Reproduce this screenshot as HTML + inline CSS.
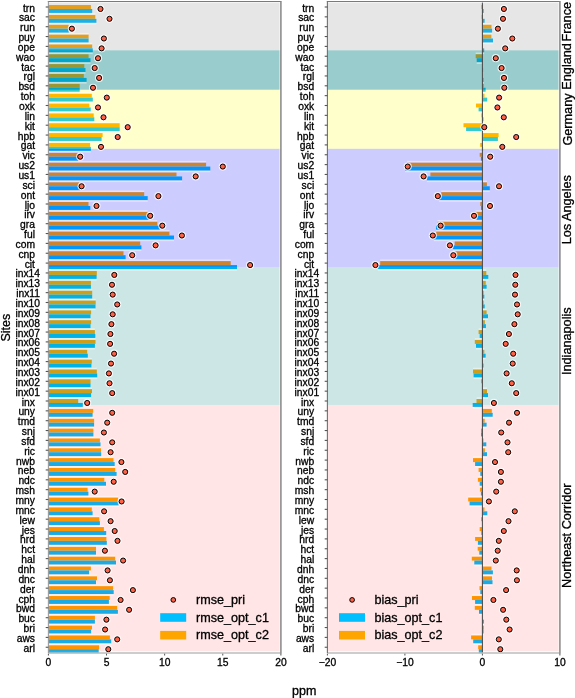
<!DOCTYPE html>
<html><head><meta charset="utf-8"><style>
html,body{margin:0;padding:0;background:#fff;}
svg{display:block;filter:blur(0.3px);}
text{font-family:"Liberation Sans",sans-serif;fill:#000;stroke:#000;stroke-width:0.3px;}
.tk{font-size:10.3px;}
.lg{font-size:12.6px;}
.lb{font-size:12.5px;}
.rg{font-size:12.7px;}
</style></head><body>
<svg width="575" height="698" viewBox="0 0 575 698">
<rect width="575" height="698" fill="#fff"/>
<rect x="48.4" y="5.03" width="42.5" height="3.94" fill="#ffa500"/>
<rect x="48.4" y="8.97" width="43.8" height="3.94" fill="#00bfff"/>
<rect x="48.4" y="14.88" width="46.9" height="3.94" fill="#ffa500"/>
<rect x="48.4" y="18.82" width="48" height="3.94" fill="#00bfff"/>
<rect x="48.4" y="24.73" width="20.4" height="3.94" fill="#ffa500"/>
<rect x="48.4" y="28.67" width="20.4" height="3.94" fill="#00bfff"/>
<rect x="48.4" y="34.58" width="40.2" height="3.94" fill="#ffa500"/>
<rect x="48.4" y="38.52" width="40.2" height="3.94" fill="#00bfff"/>
<rect x="48.4" y="44.43" width="43.8" height="3.94" fill="#ffa500"/>
<rect x="48.4" y="48.37" width="44.4" height="3.94" fill="#00bfff"/>
<rect x="48.4" y="54.28" width="40.2" height="3.94" fill="#ffa500"/>
<rect x="48.4" y="58.22" width="42.1" height="3.94" fill="#00bfff"/>
<rect x="48.4" y="64.13" width="35.9" height="3.94" fill="#ffa500"/>
<rect x="48.4" y="68.07" width="37.1" height="3.94" fill="#00bfff"/>
<rect x="48.4" y="73.98" width="35.4" height="3.94" fill="#ffa500"/>
<rect x="48.4" y="77.92" width="38.2" height="3.94" fill="#00bfff"/>
<rect x="48.4" y="83.83" width="31.3" height="3.94" fill="#ffa500"/>
<rect x="48.4" y="87.77" width="31.3" height="3.94" fill="#00bfff"/>
<rect x="48.4" y="93.68" width="43.4" height="3.94" fill="#ffa500"/>
<rect x="48.4" y="97.62" width="44.4" height="3.94" fill="#00bfff"/>
<rect x="48.4" y="103.53" width="40.9" height="3.94" fill="#ffa500"/>
<rect x="48.4" y="107.47" width="42.3" height="3.94" fill="#00bfff"/>
<rect x="48.4" y="113.38" width="45.3" height="3.94" fill="#ffa500"/>
<rect x="48.4" y="117.32" width="45.9" height="3.94" fill="#00bfff"/>
<rect x="48.4" y="123.23" width="71.3" height="3.94" fill="#ffa500"/>
<rect x="48.4" y="127.17" width="71.3" height="3.94" fill="#00bfff"/>
<rect x="48.4" y="133.08" width="54.2" height="3.94" fill="#ffa500"/>
<rect x="48.4" y="137.02" width="53.2" height="3.94" fill="#00bfff"/>
<rect x="48.4" y="142.93" width="41.7" height="3.94" fill="#ffa500"/>
<rect x="48.4" y="146.87" width="42.5" height="3.94" fill="#00bfff"/>
<rect x="48.4" y="152.78" width="29.7" height="3.94" fill="#ffa500"/>
<rect x="48.4" y="156.72" width="29.7" height="3.94" fill="#00bfff"/>
<rect x="48.4" y="162.63" width="157.7" height="3.94" fill="#ffa500"/>
<rect x="48.4" y="166.57" width="161.9" height="3.94" fill="#00bfff"/>
<rect x="48.4" y="172.48" width="128.1" height="3.94" fill="#ffa500"/>
<rect x="48.4" y="176.42" width="133.7" height="3.94" fill="#00bfff"/>
<rect x="48.4" y="182.33" width="30.7" height="3.94" fill="#ffa500"/>
<rect x="48.4" y="186.27" width="31.8" height="3.94" fill="#00bfff"/>
<rect x="48.4" y="192.18" width="95.8" height="3.94" fill="#ffa500"/>
<rect x="48.4" y="196.12" width="99.3" height="3.94" fill="#00bfff"/>
<rect x="48.4" y="202.03" width="40.1" height="3.94" fill="#ffa500"/>
<rect x="48.4" y="205.97" width="41.9" height="3.94" fill="#00bfff"/>
<rect x="48.4" y="211.88" width="99.3" height="3.94" fill="#ffa500"/>
<rect x="48.4" y="215.82" width="100.1" height="3.94" fill="#00bfff"/>
<rect x="48.4" y="221.73" width="108.9" height="3.94" fill="#ffa500"/>
<rect x="48.4" y="225.67" width="111.4" height="3.94" fill="#00bfff"/>
<rect x="48.4" y="231.58" width="121" height="3.94" fill="#ffa500"/>
<rect x="48.4" y="235.52" width="125.6" height="3.94" fill="#00bfff"/>
<rect x="48.4" y="241.43" width="91.8" height="3.94" fill="#ffa500"/>
<rect x="48.4" y="245.37" width="93" height="3.94" fill="#00bfff"/>
<rect x="48.4" y="251.28" width="75.1" height="3.94" fill="#ffa500"/>
<rect x="48.4" y="255.22" width="77.2" height="3.94" fill="#00bfff"/>
<rect x="48.4" y="261.13" width="182.3" height="3.94" fill="#ffa500"/>
<rect x="48.4" y="265.07" width="188.6" height="3.94" fill="#00bfff"/>
<rect x="48.4" y="270.98" width="48.4" height="3.94" fill="#ffa500"/>
<rect x="48.4" y="274.92" width="48.2" height="3.94" fill="#00bfff"/>
<rect x="48.4" y="280.83" width="42.5" height="3.94" fill="#ffa500"/>
<rect x="48.4" y="284.77" width="42.5" height="3.94" fill="#00bfff"/>
<rect x="48.4" y="290.68" width="43.8" height="3.94" fill="#ffa500"/>
<rect x="48.4" y="294.62" width="43.8" height="3.94" fill="#00bfff"/>
<rect x="48.4" y="300.53" width="47.3" height="3.94" fill="#ffa500"/>
<rect x="48.4" y="304.47" width="47.1" height="3.94" fill="#00bfff"/>
<rect x="48.4" y="310.38" width="42.7" height="3.94" fill="#ffa500"/>
<rect x="48.4" y="314.32" width="42.1" height="3.94" fill="#00bfff"/>
<rect x="48.4" y="320.23" width="42.7" height="3.94" fill="#ffa500"/>
<rect x="48.4" y="324.17" width="42.1" height="3.94" fill="#00bfff"/>
<rect x="48.4" y="330.08" width="46.5" height="3.94" fill="#ffa500"/>
<rect x="48.4" y="334.02" width="46.9" height="3.94" fill="#00bfff"/>
<rect x="48.4" y="339.93" width="47.1" height="3.94" fill="#ffa500"/>
<rect x="48.4" y="343.87" width="46.5" height="3.94" fill="#00bfff"/>
<rect x="48.4" y="349.78" width="38.8" height="3.94" fill="#ffa500"/>
<rect x="48.4" y="353.72" width="39.4" height="3.94" fill="#00bfff"/>
<rect x="48.4" y="359.63" width="43.4" height="3.94" fill="#ffa500"/>
<rect x="48.4" y="363.57" width="43" height="3.94" fill="#00bfff"/>
<rect x="48.4" y="369.48" width="48.4" height="3.94" fill="#ffa500"/>
<rect x="48.4" y="373.42" width="48.8" height="3.94" fill="#00bfff"/>
<rect x="48.4" y="379.33" width="42.1" height="3.94" fill="#ffa500"/>
<rect x="48.4" y="383.27" width="42.1" height="3.94" fill="#00bfff"/>
<rect x="48.4" y="389.18" width="43.6" height="3.94" fill="#ffa500"/>
<rect x="48.4" y="393.12" width="42.7" height="3.94" fill="#00bfff"/>
<rect x="48.4" y="399.03" width="29.8" height="3.94" fill="#ffa500"/>
<rect x="48.4" y="402.97" width="34.4" height="3.94" fill="#00bfff"/>
<rect x="48.4" y="408.88" width="44.8" height="3.94" fill="#ffa500"/>
<rect x="48.4" y="412.82" width="44.2" height="3.94" fill="#00bfff"/>
<rect x="48.4" y="418.73" width="45.7" height="3.94" fill="#ffa500"/>
<rect x="48.4" y="422.67" width="45.7" height="3.94" fill="#00bfff"/>
<rect x="48.4" y="428.58" width="45" height="3.94" fill="#ffa500"/>
<rect x="48.4" y="432.52" width="45" height="3.94" fill="#00bfff"/>
<rect x="48.4" y="438.43" width="51.5" height="3.94" fill="#ffa500"/>
<rect x="48.4" y="442.37" width="52.1" height="3.94" fill="#00bfff"/>
<rect x="48.4" y="448.28" width="52.6" height="3.94" fill="#ffa500"/>
<rect x="48.4" y="452.22" width="52.8" height="3.94" fill="#00bfff"/>
<rect x="48.4" y="458.13" width="65.1" height="3.94" fill="#ffa500"/>
<rect x="48.4" y="462.07" width="66.3" height="3.94" fill="#00bfff"/>
<rect x="48.4" y="467.98" width="66.8" height="3.94" fill="#ffa500"/>
<rect x="48.4" y="471.92" width="68.2" height="3.94" fill="#00bfff"/>
<rect x="48.4" y="477.83" width="55.9" height="3.94" fill="#ffa500"/>
<rect x="48.4" y="481.77" width="57.6" height="3.94" fill="#00bfff"/>
<rect x="48.4" y="487.68" width="39.2" height="3.94" fill="#ffa500"/>
<rect x="48.4" y="491.62" width="40" height="3.94" fill="#00bfff"/>
<rect x="48.4" y="497.53" width="69.7" height="3.94" fill="#ffa500"/>
<rect x="48.4" y="501.47" width="70.3" height="3.94" fill="#00bfff"/>
<rect x="48.4" y="507.38" width="43.4" height="3.94" fill="#ffa500"/>
<rect x="48.4" y="511.32" width="44.2" height="3.94" fill="#00bfff"/>
<rect x="48.4" y="517.23" width="50.9" height="3.94" fill="#ffa500"/>
<rect x="48.4" y="521.17" width="51.5" height="3.94" fill="#00bfff"/>
<rect x="48.4" y="527.08" width="55.5" height="3.94" fill="#ffa500"/>
<rect x="48.4" y="531.02" width="57.8" height="3.94" fill="#00bfff"/>
<rect x="48.4" y="536.93" width="58" height="3.94" fill="#ffa500"/>
<rect x="48.4" y="540.87" width="58.4" height="3.94" fill="#00bfff"/>
<rect x="48.4" y="546.78" width="47.6" height="3.94" fill="#ffa500"/>
<rect x="48.4" y="550.72" width="47.6" height="3.94" fill="#00bfff"/>
<rect x="48.4" y="556.63" width="66.8" height="3.94" fill="#ffa500"/>
<rect x="48.4" y="560.57" width="67.6" height="3.94" fill="#00bfff"/>
<rect x="48.4" y="566.48" width="42.5" height="3.94" fill="#ffa500"/>
<rect x="48.4" y="570.42" width="40.7" height="3.94" fill="#00bfff"/>
<rect x="48.4" y="576.33" width="48.6" height="3.94" fill="#ffa500"/>
<rect x="48.4" y="580.27" width="47.6" height="3.94" fill="#00bfff"/>
<rect x="48.4" y="586.18" width="64.7" height="3.94" fill="#ffa500"/>
<rect x="48.4" y="590.12" width="65.3" height="3.94" fill="#00bfff"/>
<rect x="48.4" y="596.03" width="61.3" height="3.94" fill="#ffa500"/>
<rect x="48.4" y="599.97" width="60.5" height="3.94" fill="#00bfff"/>
<rect x="48.4" y="605.88" width="68.8" height="3.94" fill="#ffa500"/>
<rect x="48.4" y="609.82" width="69.5" height="3.94" fill="#00bfff"/>
<rect x="48.4" y="615.73" width="46.5" height="3.94" fill="#ffa500"/>
<rect x="48.4" y="619.67" width="46.5" height="3.94" fill="#00bfff"/>
<rect x="48.4" y="625.58" width="43.6" height="3.94" fill="#ffa500"/>
<rect x="48.4" y="629.52" width="42.7" height="3.94" fill="#00bfff"/>
<rect x="48.4" y="635.43" width="61.5" height="3.94" fill="#ffa500"/>
<rect x="48.4" y="639.37" width="62.8" height="3.94" fill="#00bfff"/>
<rect x="48.4" y="645.28" width="50.7" height="3.94" fill="#ffa500"/>
<rect x="48.4" y="649.22" width="50.3" height="3.94" fill="#00bfff"/>
<rect x="48.4" y="1.09" width="232.5" height="49.25" fill="#808080" fill-opacity="0.2"/>
<rect x="48.4" y="50.34" width="232.5" height="39.4" fill="#008080" fill-opacity="0.4"/>
<rect x="48.4" y="89.74" width="232.5" height="59.1" fill="#ffff00" fill-opacity="0.2"/>
<rect x="48.4" y="148.84" width="232.5" height="118.2" fill="#0000ff" fill-opacity="0.2"/>
<rect x="48.4" y="267.04" width="232.5" height="137.9" fill="#008080" fill-opacity="0.2"/>
<rect x="48.4" y="404.94" width="232.5" height="246.25" fill="#ff0000" fill-opacity="0.1"/>
<rect x="48.4" y="13.16" width="46.9" height="1.5" fill="#fff" fill-opacity="0.45"/>
<rect x="48.4" y="23.01" width="48" height="1.5" fill="#fff" fill-opacity="0.45"/>
<rect x="48.4" y="32.86" width="40.2" height="1.5" fill="#fff" fill-opacity="0.45"/>
<rect x="48.4" y="42.71" width="43.8" height="1.5" fill="#fff" fill-opacity="0.45"/>
<rect x="48.4" y="52.56" width="44.4" height="1.5" fill="#fff" fill-opacity="0.45"/>
<rect x="48.4" y="62.41" width="42.1" height="1.5" fill="#fff" fill-opacity="0.45"/>
<rect x="48.4" y="72.26" width="37.1" height="1.5" fill="#fff" fill-opacity="0.45"/>
<rect x="48.4" y="82.11" width="38.2" height="1.5" fill="#fff" fill-opacity="0.45"/>
<rect x="48.4" y="91.96" width="43.4" height="1.5" fill="#fff" fill-opacity="0.45"/>
<rect x="48.4" y="101.81" width="44.4" height="1.5" fill="#fff" fill-opacity="0.45"/>
<rect x="48.4" y="111.66" width="45.3" height="1.5" fill="#fff" fill-opacity="0.45"/>
<rect x="48.4" y="121.51" width="71.3" height="1.5" fill="#fff" fill-opacity="0.45"/>
<rect x="48.4" y="131.36" width="71.3" height="1.5" fill="#fff" fill-opacity="0.45"/>
<rect x="48.4" y="141.21" width="53.2" height="1.5" fill="#fff" fill-opacity="0.45"/>
<rect x="48.4" y="151.06" width="42.5" height="1.5" fill="#fff" fill-opacity="0.45"/>
<rect x="48.4" y="160.91" width="157.7" height="1.5" fill="#fff" fill-opacity="0.45"/>
<rect x="48.4" y="170.76" width="161.9" height="1.5" fill="#fff" fill-opacity="0.45"/>
<rect x="48.4" y="180.61" width="133.7" height="1.5" fill="#fff" fill-opacity="0.45"/>
<rect x="48.4" y="190.46" width="95.8" height="1.5" fill="#fff" fill-opacity="0.45"/>
<rect x="48.4" y="200.31" width="99.3" height="1.5" fill="#fff" fill-opacity="0.45"/>
<rect x="48.4" y="210.16" width="99.3" height="1.5" fill="#fff" fill-opacity="0.45"/>
<rect x="48.4" y="220.01" width="108.9" height="1.5" fill="#fff" fill-opacity="0.45"/>
<rect x="48.4" y="229.86" width="121" height="1.5" fill="#fff" fill-opacity="0.45"/>
<rect x="48.4" y="239.71" width="125.6" height="1.5" fill="#fff" fill-opacity="0.45"/>
<rect x="48.4" y="249.56" width="93" height="1.5" fill="#fff" fill-opacity="0.45"/>
<rect x="48.4" y="259.41" width="182.3" height="1.5" fill="#fff" fill-opacity="0.45"/>
<rect x="48.4" y="269.26" width="188.6" height="1.5" fill="#fff" fill-opacity="0.45"/>
<rect x="48.4" y="279.11" width="48.2" height="1.5" fill="#fff" fill-opacity="0.45"/>
<rect x="48.4" y="288.96" width="43.8" height="1.5" fill="#fff" fill-opacity="0.45"/>
<rect x="48.4" y="298.81" width="47.3" height="1.5" fill="#fff" fill-opacity="0.45"/>
<rect x="48.4" y="308.66" width="47.1" height="1.5" fill="#fff" fill-opacity="0.45"/>
<rect x="48.4" y="318.51" width="42.7" height="1.5" fill="#fff" fill-opacity="0.45"/>
<rect x="48.4" y="328.36" width="46.5" height="1.5" fill="#fff" fill-opacity="0.45"/>
<rect x="48.4" y="338.21" width="47.1" height="1.5" fill="#fff" fill-opacity="0.45"/>
<rect x="48.4" y="348.06" width="46.5" height="1.5" fill="#fff" fill-opacity="0.45"/>
<rect x="48.4" y="357.91" width="43.4" height="1.5" fill="#fff" fill-opacity="0.45"/>
<rect x="48.4" y="367.76" width="48.4" height="1.5" fill="#fff" fill-opacity="0.45"/>
<rect x="48.4" y="377.61" width="48.8" height="1.5" fill="#fff" fill-opacity="0.45"/>
<rect x="48.4" y="387.46" width="43.6" height="1.5" fill="#fff" fill-opacity="0.45"/>
<rect x="48.4" y="397.31" width="42.7" height="1.5" fill="#fff" fill-opacity="0.45"/>
<rect x="48.4" y="407.16" width="44.8" height="1.5" fill="#fff" fill-opacity="0.45"/>
<rect x="48.4" y="417.01" width="45.7" height="1.5" fill="#fff" fill-opacity="0.45"/>
<rect x="48.4" y="426.86" width="45.7" height="1.5" fill="#fff" fill-opacity="0.45"/>
<rect x="48.4" y="436.71" width="51.5" height="1.5" fill="#fff" fill-opacity="0.45"/>
<rect x="48.4" y="446.56" width="52.6" height="1.5" fill="#fff" fill-opacity="0.45"/>
<rect x="48.4" y="456.41" width="65.1" height="1.5" fill="#fff" fill-opacity="0.45"/>
<rect x="48.4" y="466.26" width="66.8" height="1.5" fill="#fff" fill-opacity="0.45"/>
<rect x="48.4" y="476.11" width="68.2" height="1.5" fill="#fff" fill-opacity="0.45"/>
<rect x="48.4" y="485.96" width="57.6" height="1.5" fill="#fff" fill-opacity="0.45"/>
<rect x="48.4" y="495.81" width="69.7" height="1.5" fill="#fff" fill-opacity="0.45"/>
<rect x="48.4" y="505.66" width="70.3" height="1.5" fill="#fff" fill-opacity="0.45"/>
<rect x="48.4" y="515.51" width="50.9" height="1.5" fill="#fff" fill-opacity="0.45"/>
<rect x="48.4" y="525.36" width="55.5" height="1.5" fill="#fff" fill-opacity="0.45"/>
<rect x="48.4" y="535.21" width="58" height="1.5" fill="#fff" fill-opacity="0.45"/>
<rect x="48.4" y="545.06" width="58.4" height="1.5" fill="#fff" fill-opacity="0.45"/>
<rect x="48.4" y="554.91" width="66.8" height="1.5" fill="#fff" fill-opacity="0.45"/>
<rect x="48.4" y="564.76" width="67.6" height="1.5" fill="#fff" fill-opacity="0.45"/>
<rect x="48.4" y="574.61" width="48.6" height="1.5" fill="#fff" fill-opacity="0.45"/>
<rect x="48.4" y="584.46" width="64.7" height="1.5" fill="#fff" fill-opacity="0.45"/>
<rect x="48.4" y="594.31" width="65.3" height="1.5" fill="#fff" fill-opacity="0.45"/>
<rect x="48.4" y="604.16" width="68.8" height="1.5" fill="#fff" fill-opacity="0.45"/>
<rect x="48.4" y="614.01" width="69.5" height="1.5" fill="#fff" fill-opacity="0.45"/>
<rect x="48.4" y="623.86" width="46.5" height="1.5" fill="#fff" fill-opacity="0.45"/>
<rect x="48.4" y="633.71" width="61.5" height="1.5" fill="#fff" fill-opacity="0.45"/>
<rect x="48.4" y="643.56" width="62.8" height="1.5" fill="#fff" fill-opacity="0.45"/>
<circle cx="100.5" cy="8.97" r="4.1" fill="#fff" fill-opacity="0.75"/>
<circle cx="100.5" cy="8.97" r="2.55" fill="#ff6347" stroke="#000" stroke-width="1"/>
<circle cx="109.5" cy="18.82" r="4.1" fill="#fff" fill-opacity="0.75"/>
<circle cx="109.5" cy="18.82" r="2.55" fill="#ff6347" stroke="#000" stroke-width="1"/>
<circle cx="71.9" cy="28.67" r="4.1" fill="#fff" fill-opacity="0.75"/>
<circle cx="71.9" cy="28.67" r="2.55" fill="#ff6347" stroke="#000" stroke-width="1"/>
<circle cx="103.9" cy="38.52" r="4.1" fill="#fff" fill-opacity="0.75"/>
<circle cx="103.9" cy="38.52" r="2.55" fill="#ff6347" stroke="#000" stroke-width="1"/>
<circle cx="101.6" cy="48.37" r="4.1" fill="#fff" fill-opacity="0.75"/>
<circle cx="101.6" cy="48.37" r="2.55" fill="#ff6347" stroke="#000" stroke-width="1"/>
<circle cx="98" cy="58.22" r="4.1" fill="#fff" fill-opacity="0.75"/>
<circle cx="98" cy="58.22" r="2.55" fill="#ff6347" stroke="#000" stroke-width="1"/>
<circle cx="94.7" cy="68.07" r="4.1" fill="#fff" fill-opacity="0.75"/>
<circle cx="94.7" cy="68.07" r="2.55" fill="#ff6347" stroke="#000" stroke-width="1"/>
<circle cx="99.1" cy="77.92" r="4.1" fill="#fff" fill-opacity="0.75"/>
<circle cx="99.1" cy="77.92" r="2.55" fill="#ff6347" stroke="#000" stroke-width="1"/>
<circle cx="93" cy="87.77" r="4.1" fill="#fff" fill-opacity="0.75"/>
<circle cx="93" cy="87.77" r="2.55" fill="#ff6347" stroke="#000" stroke-width="1"/>
<circle cx="106.8" cy="97.62" r="4.1" fill="#fff" fill-opacity="0.75"/>
<circle cx="106.8" cy="97.62" r="2.55" fill="#ff6347" stroke="#000" stroke-width="1"/>
<circle cx="98" cy="107.47" r="4.1" fill="#fff" fill-opacity="0.75"/>
<circle cx="98" cy="107.47" r="2.55" fill="#ff6347" stroke="#000" stroke-width="1"/>
<circle cx="103.5" cy="117.32" r="4.1" fill="#fff" fill-opacity="0.75"/>
<circle cx="103.5" cy="117.32" r="2.55" fill="#ff6347" stroke="#000" stroke-width="1"/>
<circle cx="127.7" cy="127.17" r="4.1" fill="#fff" fill-opacity="0.75"/>
<circle cx="127.7" cy="127.17" r="2.55" fill="#ff6347" stroke="#000" stroke-width="1"/>
<circle cx="117.7" cy="137.02" r="4.1" fill="#fff" fill-opacity="0.75"/>
<circle cx="117.7" cy="137.02" r="2.55" fill="#ff6347" stroke="#000" stroke-width="1"/>
<circle cx="101" cy="146.87" r="4.1" fill="#fff" fill-opacity="0.75"/>
<circle cx="101" cy="146.87" r="2.55" fill="#ff6347" stroke="#000" stroke-width="1"/>
<circle cx="80.2" cy="156.72" r="4.1" fill="#fff" fill-opacity="0.75"/>
<circle cx="80.2" cy="156.72" r="2.55" fill="#ff6347" stroke="#000" stroke-width="1"/>
<circle cx="222.8" cy="166.57" r="4.1" fill="#fff" fill-opacity="0.75"/>
<circle cx="222.8" cy="166.57" r="2.55" fill="#ff6347" stroke="#000" stroke-width="1"/>
<circle cx="195.7" cy="176.42" r="4.1" fill="#fff" fill-opacity="0.75"/>
<circle cx="195.7" cy="176.42" r="2.55" fill="#ff6347" stroke="#000" stroke-width="1"/>
<circle cx="81.6" cy="186.27" r="4.1" fill="#fff" fill-opacity="0.75"/>
<circle cx="81.6" cy="186.27" r="2.55" fill="#ff6347" stroke="#000" stroke-width="1"/>
<circle cx="158.4" cy="196.12" r="4.1" fill="#fff" fill-opacity="0.75"/>
<circle cx="158.4" cy="196.12" r="2.55" fill="#ff6347" stroke="#000" stroke-width="1"/>
<circle cx="96.5" cy="205.97" r="4.1" fill="#fff" fill-opacity="0.75"/>
<circle cx="96.5" cy="205.97" r="2.55" fill="#ff6347" stroke="#000" stroke-width="1"/>
<circle cx="150.2" cy="215.82" r="4.1" fill="#fff" fill-opacity="0.75"/>
<circle cx="150.2" cy="215.82" r="2.55" fill="#ff6347" stroke="#000" stroke-width="1"/>
<circle cx="162.3" cy="225.67" r="4.1" fill="#fff" fill-opacity="0.75"/>
<circle cx="162.3" cy="225.67" r="2.55" fill="#ff6347" stroke="#000" stroke-width="1"/>
<circle cx="181.9" cy="235.52" r="4.1" fill="#fff" fill-opacity="0.75"/>
<circle cx="181.9" cy="235.52" r="2.55" fill="#ff6347" stroke="#000" stroke-width="1"/>
<circle cx="155.6" cy="245.37" r="4.1" fill="#fff" fill-opacity="0.75"/>
<circle cx="155.6" cy="245.37" r="2.55" fill="#ff6347" stroke="#000" stroke-width="1"/>
<circle cx="132.2" cy="255.22" r="4.1" fill="#fff" fill-opacity="0.75"/>
<circle cx="132.2" cy="255.22" r="2.55" fill="#ff6347" stroke="#000" stroke-width="1"/>
<circle cx="250.1" cy="265.07" r="4.1" fill="#fff" fill-opacity="0.75"/>
<circle cx="250.1" cy="265.07" r="2.55" fill="#ff6347" stroke="#000" stroke-width="1"/>
<circle cx="114.3" cy="274.92" r="4.1" fill="#fff" fill-opacity="0.75"/>
<circle cx="114.3" cy="274.92" r="2.55" fill="#ff6347" stroke="#000" stroke-width="1"/>
<circle cx="112" cy="284.77" r="4.1" fill="#fff" fill-opacity="0.75"/>
<circle cx="112" cy="284.77" r="2.55" fill="#ff6347" stroke="#000" stroke-width="1"/>
<circle cx="112.7" cy="294.62" r="4.1" fill="#fff" fill-opacity="0.75"/>
<circle cx="112.7" cy="294.62" r="2.55" fill="#ff6347" stroke="#000" stroke-width="1"/>
<circle cx="117.2" cy="304.47" r="4.1" fill="#fff" fill-opacity="0.75"/>
<circle cx="117.2" cy="304.47" r="2.55" fill="#ff6347" stroke="#000" stroke-width="1"/>
<circle cx="112.7" cy="314.32" r="4.1" fill="#fff" fill-opacity="0.75"/>
<circle cx="112.7" cy="314.32" r="2.55" fill="#ff6347" stroke="#000" stroke-width="1"/>
<circle cx="111.4" cy="324.17" r="4.1" fill="#fff" fill-opacity="0.75"/>
<circle cx="111.4" cy="324.17" r="2.55" fill="#ff6347" stroke="#000" stroke-width="1"/>
<circle cx="110.4" cy="334.02" r="4.1" fill="#fff" fill-opacity="0.75"/>
<circle cx="110.4" cy="334.02" r="2.55" fill="#ff6347" stroke="#000" stroke-width="1"/>
<circle cx="110.1" cy="343.87" r="4.1" fill="#fff" fill-opacity="0.75"/>
<circle cx="110.1" cy="343.87" r="2.55" fill="#ff6347" stroke="#000" stroke-width="1"/>
<circle cx="114.1" cy="353.72" r="4.1" fill="#fff" fill-opacity="0.75"/>
<circle cx="114.1" cy="353.72" r="2.55" fill="#ff6347" stroke="#000" stroke-width="1"/>
<circle cx="111" cy="363.57" r="4.1" fill="#fff" fill-opacity="0.75"/>
<circle cx="111" cy="363.57" r="2.55" fill="#ff6347" stroke="#000" stroke-width="1"/>
<circle cx="108.9" cy="373.42" r="4.1" fill="#fff" fill-opacity="0.75"/>
<circle cx="108.9" cy="373.42" r="2.55" fill="#ff6347" stroke="#000" stroke-width="1"/>
<circle cx="109.5" cy="383.27" r="4.1" fill="#fff" fill-opacity="0.75"/>
<circle cx="109.5" cy="383.27" r="2.55" fill="#ff6347" stroke="#000" stroke-width="1"/>
<circle cx="112.2" cy="393.12" r="4.1" fill="#fff" fill-opacity="0.75"/>
<circle cx="112.2" cy="393.12" r="2.55" fill="#ff6347" stroke="#000" stroke-width="1"/>
<circle cx="87.2" cy="402.97" r="4.1" fill="#fff" fill-opacity="0.75"/>
<circle cx="87.2" cy="402.97" r="2.55" fill="#ff6347" stroke="#000" stroke-width="1"/>
<circle cx="112.2" cy="412.82" r="4.1" fill="#fff" fill-opacity="0.75"/>
<circle cx="112.2" cy="412.82" r="2.55" fill="#ff6347" stroke="#000" stroke-width="1"/>
<circle cx="107.2" cy="422.67" r="4.1" fill="#fff" fill-opacity="0.75"/>
<circle cx="107.2" cy="422.67" r="2.55" fill="#ff6347" stroke="#000" stroke-width="1"/>
<circle cx="103.9" cy="432.52" r="4.1" fill="#fff" fill-opacity="0.75"/>
<circle cx="103.9" cy="432.52" r="2.55" fill="#ff6347" stroke="#000" stroke-width="1"/>
<circle cx="112.2" cy="442.37" r="4.1" fill="#fff" fill-opacity="0.75"/>
<circle cx="112.2" cy="442.37" r="2.55" fill="#ff6347" stroke="#000" stroke-width="1"/>
<circle cx="110.6" cy="452.22" r="4.1" fill="#fff" fill-opacity="0.75"/>
<circle cx="110.6" cy="452.22" r="2.55" fill="#ff6347" stroke="#000" stroke-width="1"/>
<circle cx="121.4" cy="462.07" r="4.1" fill="#fff" fill-opacity="0.75"/>
<circle cx="121.4" cy="462.07" r="2.55" fill="#ff6347" stroke="#000" stroke-width="1"/>
<circle cx="125.2" cy="471.92" r="4.1" fill="#fff" fill-opacity="0.75"/>
<circle cx="125.2" cy="471.92" r="2.55" fill="#ff6347" stroke="#000" stroke-width="1"/>
<circle cx="113.7" cy="481.77" r="4.1" fill="#fff" fill-opacity="0.75"/>
<circle cx="113.7" cy="481.77" r="2.55" fill="#ff6347" stroke="#000" stroke-width="1"/>
<circle cx="94.7" cy="491.62" r="4.1" fill="#fff" fill-opacity="0.75"/>
<circle cx="94.7" cy="491.62" r="2.55" fill="#ff6347" stroke="#000" stroke-width="1"/>
<circle cx="121.6" cy="501.47" r="4.1" fill="#fff" fill-opacity="0.75"/>
<circle cx="121.6" cy="501.47" r="2.55" fill="#ff6347" stroke="#000" stroke-width="1"/>
<circle cx="104.1" cy="511.32" r="4.1" fill="#fff" fill-opacity="0.75"/>
<circle cx="104.1" cy="511.32" r="2.55" fill="#ff6347" stroke="#000" stroke-width="1"/>
<circle cx="110.6" cy="521.17" r="4.1" fill="#fff" fill-opacity="0.75"/>
<circle cx="110.6" cy="521.17" r="2.55" fill="#ff6347" stroke="#000" stroke-width="1"/>
<circle cx="114.7" cy="531.02" r="4.1" fill="#fff" fill-opacity="0.75"/>
<circle cx="114.7" cy="531.02" r="2.55" fill="#ff6347" stroke="#000" stroke-width="1"/>
<circle cx="117.5" cy="540.87" r="4.1" fill="#fff" fill-opacity="0.75"/>
<circle cx="117.5" cy="540.87" r="2.55" fill="#ff6347" stroke="#000" stroke-width="1"/>
<circle cx="104.9" cy="550.72" r="4.1" fill="#fff" fill-opacity="0.75"/>
<circle cx="104.9" cy="550.72" r="2.55" fill="#ff6347" stroke="#000" stroke-width="1"/>
<circle cx="123.1" cy="560.57" r="4.1" fill="#fff" fill-opacity="0.75"/>
<circle cx="123.1" cy="560.57" r="2.55" fill="#ff6347" stroke="#000" stroke-width="1"/>
<circle cx="107.6" cy="570.42" r="4.1" fill="#fff" fill-opacity="0.75"/>
<circle cx="107.6" cy="570.42" r="2.55" fill="#ff6347" stroke="#000" stroke-width="1"/>
<circle cx="109.9" cy="580.27" r="4.1" fill="#fff" fill-opacity="0.75"/>
<circle cx="109.9" cy="580.27" r="2.55" fill="#ff6347" stroke="#000" stroke-width="1"/>
<circle cx="132.9" cy="590.12" r="4.1" fill="#fff" fill-opacity="0.75"/>
<circle cx="132.9" cy="590.12" r="2.55" fill="#ff6347" stroke="#000" stroke-width="1"/>
<circle cx="120.6" cy="599.97" r="4.1" fill="#fff" fill-opacity="0.75"/>
<circle cx="120.6" cy="599.97" r="2.55" fill="#ff6347" stroke="#000" stroke-width="1"/>
<circle cx="129.1" cy="609.82" r="4.1" fill="#fff" fill-opacity="0.75"/>
<circle cx="129.1" cy="609.82" r="2.55" fill="#ff6347" stroke="#000" stroke-width="1"/>
<circle cx="106.4" cy="619.67" r="4.1" fill="#fff" fill-opacity="0.75"/>
<circle cx="106.4" cy="619.67" r="2.55" fill="#ff6347" stroke="#000" stroke-width="1"/>
<circle cx="105.1" cy="629.52" r="4.1" fill="#fff" fill-opacity="0.75"/>
<circle cx="105.1" cy="629.52" r="2.55" fill="#ff6347" stroke="#000" stroke-width="1"/>
<circle cx="117.2" cy="639.37" r="4.1" fill="#fff" fill-opacity="0.75"/>
<circle cx="117.2" cy="639.37" r="2.55" fill="#ff6347" stroke="#000" stroke-width="1"/>
<circle cx="108.3" cy="649.22" r="4.1" fill="#fff" fill-opacity="0.75"/>
<circle cx="108.3" cy="649.22" r="2.55" fill="#ff6347" stroke="#000" stroke-width="1"/>
<line x1="48.4" y1="2.6" x2="280.9" y2="2.6" stroke="#fff" stroke-opacity="0.7" stroke-width="0.9"/>
<line x1="279.7" y1="1.5" x2="279.7" y2="651.1" stroke="#fff" stroke-opacity="0.6" stroke-width="0.9"/>
<line x1="47.8" y1="1.5" x2="281.5" y2="1.5" stroke="#7a7a7a" stroke-width="1.2"/>
<line x1="48.4" y1="653.1" x2="280.9" y2="653.1" stroke="#bdbdbd" stroke-width="1.5"/>
<line x1="48.4" y1="1.5" x2="48.4" y2="653.1" stroke="#9a9a9a" stroke-width="1.1"/>
<line x1="280.9" y1="1.5" x2="280.9" y2="653.8" stroke="#8f8f8f" stroke-width="1.6"/>
<line x1="45.7" y1="7" x2="48.4" y2="7" stroke="#555" stroke-width="1.1"/>
<text x="35" y="11.5" text-anchor="end" class="tk">trn</text>
<line x1="45.7" y1="16.85" x2="48.4" y2="16.85" stroke="#555" stroke-width="1.1"/>
<text x="35" y="21.35" text-anchor="end" class="tk">sac</text>
<line x1="45.7" y1="26.7" x2="48.4" y2="26.7" stroke="#555" stroke-width="1.1"/>
<text x="35" y="31.2" text-anchor="end" class="tk">run</text>
<line x1="45.7" y1="36.55" x2="48.4" y2="36.55" stroke="#555" stroke-width="1.1"/>
<text x="35" y="41.05" text-anchor="end" class="tk">puy</text>
<line x1="45.7" y1="46.4" x2="48.4" y2="46.4" stroke="#555" stroke-width="1.1"/>
<text x="35" y="50.9" text-anchor="end" class="tk">ope</text>
<line x1="45.7" y1="56.25" x2="48.4" y2="56.25" stroke="#555" stroke-width="1.1"/>
<text x="35" y="60.75" text-anchor="end" class="tk">wao</text>
<line x1="45.7" y1="66.1" x2="48.4" y2="66.1" stroke="#555" stroke-width="1.1"/>
<text x="35" y="70.6" text-anchor="end" class="tk">tac</text>
<line x1="45.7" y1="75.95" x2="48.4" y2="75.95" stroke="#555" stroke-width="1.1"/>
<text x="35" y="80.45" text-anchor="end" class="tk">rgl</text>
<line x1="45.7" y1="85.8" x2="48.4" y2="85.8" stroke="#555" stroke-width="1.1"/>
<text x="35" y="90.3" text-anchor="end" class="tk">bsd</text>
<line x1="45.7" y1="95.65" x2="48.4" y2="95.65" stroke="#555" stroke-width="1.1"/>
<text x="35" y="100.15" text-anchor="end" class="tk">toh</text>
<line x1="45.7" y1="105.5" x2="48.4" y2="105.5" stroke="#555" stroke-width="1.1"/>
<text x="35" y="110" text-anchor="end" class="tk">oxk</text>
<line x1="45.7" y1="115.35" x2="48.4" y2="115.35" stroke="#555" stroke-width="1.1"/>
<text x="35" y="119.85" text-anchor="end" class="tk">lin</text>
<line x1="45.7" y1="125.2" x2="48.4" y2="125.2" stroke="#555" stroke-width="1.1"/>
<text x="35" y="129.7" text-anchor="end" class="tk">kit</text>
<line x1="45.7" y1="135.05" x2="48.4" y2="135.05" stroke="#555" stroke-width="1.1"/>
<text x="35" y="139.55" text-anchor="end" class="tk">hpb</text>
<line x1="45.7" y1="144.9" x2="48.4" y2="144.9" stroke="#555" stroke-width="1.1"/>
<text x="35" y="149.4" text-anchor="end" class="tk">gat</text>
<line x1="45.7" y1="154.75" x2="48.4" y2="154.75" stroke="#555" stroke-width="1.1"/>
<text x="35" y="159.25" text-anchor="end" class="tk">vic</text>
<line x1="45.7" y1="164.6" x2="48.4" y2="164.6" stroke="#555" stroke-width="1.1"/>
<text x="35" y="169.1" text-anchor="end" class="tk">us2</text>
<line x1="45.7" y1="174.45" x2="48.4" y2="174.45" stroke="#555" stroke-width="1.1"/>
<text x="35" y="178.95" text-anchor="end" class="tk">us1</text>
<line x1="45.7" y1="184.3" x2="48.4" y2="184.3" stroke="#555" stroke-width="1.1"/>
<text x="35" y="188.8" text-anchor="end" class="tk">sci</text>
<line x1="45.7" y1="194.15" x2="48.4" y2="194.15" stroke="#555" stroke-width="1.1"/>
<text x="35" y="198.65" text-anchor="end" class="tk">ont</text>
<line x1="45.7" y1="204" x2="48.4" y2="204" stroke="#555" stroke-width="1.1"/>
<text x="35" y="208.5" text-anchor="end" class="tk">ljo</text>
<line x1="45.7" y1="213.85" x2="48.4" y2="213.85" stroke="#555" stroke-width="1.1"/>
<text x="35" y="218.35" text-anchor="end" class="tk">irv</text>
<line x1="45.7" y1="223.7" x2="48.4" y2="223.7" stroke="#555" stroke-width="1.1"/>
<text x="35" y="228.2" text-anchor="end" class="tk">gra</text>
<line x1="45.7" y1="233.55" x2="48.4" y2="233.55" stroke="#555" stroke-width="1.1"/>
<text x="35" y="238.05" text-anchor="end" class="tk">ful</text>
<line x1="45.7" y1="243.4" x2="48.4" y2="243.4" stroke="#555" stroke-width="1.1"/>
<text x="35" y="247.9" text-anchor="end" class="tk">com</text>
<line x1="45.7" y1="253.25" x2="48.4" y2="253.25" stroke="#555" stroke-width="1.1"/>
<text x="35" y="257.75" text-anchor="end" class="tk">cnp</text>
<line x1="45.7" y1="263.1" x2="48.4" y2="263.1" stroke="#555" stroke-width="1.1"/>
<text x="35" y="267.6" text-anchor="end" class="tk">cit</text>
<line x1="45.7" y1="272.95" x2="48.4" y2="272.95" stroke="#555" stroke-width="1.1"/>
<text x="40" y="277.45" text-anchor="end" class="tk">inx14</text>
<line x1="45.7" y1="282.8" x2="48.4" y2="282.8" stroke="#555" stroke-width="1.1"/>
<text x="40" y="287.3" text-anchor="end" class="tk">inx13</text>
<line x1="45.7" y1="292.65" x2="48.4" y2="292.65" stroke="#555" stroke-width="1.1"/>
<text x="40" y="297.15" text-anchor="end" class="tk">inx11</text>
<line x1="45.7" y1="302.5" x2="48.4" y2="302.5" stroke="#555" stroke-width="1.1"/>
<text x="40" y="307" text-anchor="end" class="tk">inx10</text>
<line x1="45.7" y1="312.35" x2="48.4" y2="312.35" stroke="#555" stroke-width="1.1"/>
<text x="40" y="316.85" text-anchor="end" class="tk">inx09</text>
<line x1="45.7" y1="322.2" x2="48.4" y2="322.2" stroke="#555" stroke-width="1.1"/>
<text x="40" y="326.7" text-anchor="end" class="tk">inx08</text>
<line x1="45.7" y1="332.05" x2="48.4" y2="332.05" stroke="#555" stroke-width="1.1"/>
<text x="40" y="336.55" text-anchor="end" class="tk">inx07</text>
<line x1="45.7" y1="341.9" x2="48.4" y2="341.9" stroke="#555" stroke-width="1.1"/>
<text x="40" y="346.4" text-anchor="end" class="tk">inx06</text>
<line x1="45.7" y1="351.75" x2="48.4" y2="351.75" stroke="#555" stroke-width="1.1"/>
<text x="40" y="356.25" text-anchor="end" class="tk">inx05</text>
<line x1="45.7" y1="361.6" x2="48.4" y2="361.6" stroke="#555" stroke-width="1.1"/>
<text x="40" y="366.1" text-anchor="end" class="tk">inx04</text>
<line x1="45.7" y1="371.45" x2="48.4" y2="371.45" stroke="#555" stroke-width="1.1"/>
<text x="40" y="375.95" text-anchor="end" class="tk">inx03</text>
<line x1="45.7" y1="381.3" x2="48.4" y2="381.3" stroke="#555" stroke-width="1.1"/>
<text x="40" y="385.8" text-anchor="end" class="tk">inx02</text>
<line x1="45.7" y1="391.15" x2="48.4" y2="391.15" stroke="#555" stroke-width="1.1"/>
<text x="40" y="395.65" text-anchor="end" class="tk">inx01</text>
<line x1="45.7" y1="401" x2="48.4" y2="401" stroke="#555" stroke-width="1.1"/>
<text x="35" y="405.5" text-anchor="end" class="tk">inx</text>
<line x1="45.7" y1="410.85" x2="48.4" y2="410.85" stroke="#555" stroke-width="1.1"/>
<text x="35" y="415.35" text-anchor="end" class="tk">uny</text>
<line x1="45.7" y1="420.7" x2="48.4" y2="420.7" stroke="#555" stroke-width="1.1"/>
<text x="35" y="425.2" text-anchor="end" class="tk">tmd</text>
<line x1="45.7" y1="430.55" x2="48.4" y2="430.55" stroke="#555" stroke-width="1.1"/>
<text x="35" y="435.05" text-anchor="end" class="tk">snj</text>
<line x1="45.7" y1="440.4" x2="48.4" y2="440.4" stroke="#555" stroke-width="1.1"/>
<text x="35" y="444.9" text-anchor="end" class="tk">sfd</text>
<line x1="45.7" y1="450.25" x2="48.4" y2="450.25" stroke="#555" stroke-width="1.1"/>
<text x="35" y="454.75" text-anchor="end" class="tk">ric</text>
<line x1="45.7" y1="460.1" x2="48.4" y2="460.1" stroke="#555" stroke-width="1.1"/>
<text x="35" y="464.6" text-anchor="end" class="tk">nwb</text>
<line x1="45.7" y1="469.95" x2="48.4" y2="469.95" stroke="#555" stroke-width="1.1"/>
<text x="35" y="474.45" text-anchor="end" class="tk">neb</text>
<line x1="45.7" y1="479.8" x2="48.4" y2="479.8" stroke="#555" stroke-width="1.1"/>
<text x="35" y="484.3" text-anchor="end" class="tk">ndc</text>
<line x1="45.7" y1="489.65" x2="48.4" y2="489.65" stroke="#555" stroke-width="1.1"/>
<text x="35" y="494.15" text-anchor="end" class="tk">msh</text>
<line x1="45.7" y1="499.5" x2="48.4" y2="499.5" stroke="#555" stroke-width="1.1"/>
<text x="35" y="504" text-anchor="end" class="tk">mny</text>
<line x1="45.7" y1="509.35" x2="48.4" y2="509.35" stroke="#555" stroke-width="1.1"/>
<text x="35" y="513.85" text-anchor="end" class="tk">mnc</text>
<line x1="45.7" y1="519.2" x2="48.4" y2="519.2" stroke="#555" stroke-width="1.1"/>
<text x="35" y="523.7" text-anchor="end" class="tk">lew</text>
<line x1="45.7" y1="529.05" x2="48.4" y2="529.05" stroke="#555" stroke-width="1.1"/>
<text x="35" y="533.55" text-anchor="end" class="tk">jes</text>
<line x1="45.7" y1="538.9" x2="48.4" y2="538.9" stroke="#555" stroke-width="1.1"/>
<text x="35" y="543.4" text-anchor="end" class="tk">hrd</text>
<line x1="45.7" y1="548.75" x2="48.4" y2="548.75" stroke="#555" stroke-width="1.1"/>
<text x="35" y="553.25" text-anchor="end" class="tk">hct</text>
<line x1="45.7" y1="558.6" x2="48.4" y2="558.6" stroke="#555" stroke-width="1.1"/>
<text x="35" y="563.1" text-anchor="end" class="tk">hal</text>
<line x1="45.7" y1="568.45" x2="48.4" y2="568.45" stroke="#555" stroke-width="1.1"/>
<text x="35" y="572.95" text-anchor="end" class="tk">dnh</text>
<line x1="45.7" y1="578.3" x2="48.4" y2="578.3" stroke="#555" stroke-width="1.1"/>
<text x="35" y="582.8" text-anchor="end" class="tk">dnc</text>
<line x1="45.7" y1="588.15" x2="48.4" y2="588.15" stroke="#555" stroke-width="1.1"/>
<text x="35" y="592.65" text-anchor="end" class="tk">der</text>
<line x1="45.7" y1="598" x2="48.4" y2="598" stroke="#555" stroke-width="1.1"/>
<text x="35" y="602.5" text-anchor="end" class="tk">cph</text>
<line x1="45.7" y1="607.85" x2="48.4" y2="607.85" stroke="#555" stroke-width="1.1"/>
<text x="35" y="612.35" text-anchor="end" class="tk">bwd</text>
<line x1="45.7" y1="617.7" x2="48.4" y2="617.7" stroke="#555" stroke-width="1.1"/>
<text x="35" y="622.2" text-anchor="end" class="tk">buc</text>
<line x1="45.7" y1="627.55" x2="48.4" y2="627.55" stroke="#555" stroke-width="1.1"/>
<text x="35" y="632.05" text-anchor="end" class="tk">bri</text>
<line x1="45.7" y1="637.4" x2="48.4" y2="637.4" stroke="#555" stroke-width="1.1"/>
<text x="35" y="641.9" text-anchor="end" class="tk">aws</text>
<line x1="45.7" y1="647.25" x2="48.4" y2="647.25" stroke="#555" stroke-width="1.1"/>
<text x="35" y="651.75" text-anchor="end" class="tk">arl</text>
<line x1="48.4" y1="653.7" x2="48.4" y2="655.5" stroke="#555" stroke-width="1.0"/>
<text x="48.4" y="665.8" text-anchor="middle" class="tk">0</text>
<line x1="106.52" y1="653.7" x2="106.52" y2="655.5" stroke="#555" stroke-width="1.0"/>
<text x="106.52" y="665.8" text-anchor="middle" class="tk">5</text>
<line x1="164.65" y1="653.7" x2="164.65" y2="655.5" stroke="#555" stroke-width="1.0"/>
<text x="164.65" y="665.8" text-anchor="middle" class="tk">10</text>
<line x1="222.77" y1="653.7" x2="222.77" y2="655.5" stroke="#555" stroke-width="1.0"/>
<text x="222.77" y="665.8" text-anchor="middle" class="tk">15</text>
<line x1="280.9" y1="653.7" x2="280.9" y2="655.5" stroke="#555" stroke-width="1.0"/>
<text x="280.9" y="665.8" text-anchor="middle" class="tk">20</text>
<circle cx="173.3" cy="599.9" r="2.35" fill="#ff6347" stroke="#000" stroke-width="1"/>
<rect x="160.2" y="613.2" width="26" height="8.6" fill="#00bfff"/>
<rect x="160.2" y="630.9" width="26" height="8.6" fill="#ffa500"/>
<text x="196.1" y="604.1" class="lg">rmse_pri</text>
<text x="196.1" y="621.7" class="lg">rmse_opt_c1</text>
<text x="196.1" y="639.4" class="lg">rmse_opt_c2</text>
<rect x="481.4" y="5.03" width="1" height="3.94" fill="#ffa500"/>
<rect x="482.4" y="8.97" width="1.3" height="3.94" fill="#00bfff"/>
<rect x="481.6" y="14.88" width="0.8" height="3.94" fill="#ffa500"/>
<rect x="482.4" y="18.82" width="2.2" height="3.94" fill="#00bfff"/>
<rect x="482.4" y="24.73" width="9.1" height="3.94" fill="#ffa500"/>
<rect x="482.4" y="28.67" width="9.7" height="3.94" fill="#00bfff"/>
<rect x="482.4" y="34.58" width="9" height="3.94" fill="#ffa500"/>
<rect x="482.4" y="38.52" width="10.6" height="3.94" fill="#00bfff"/>
<rect x="482.4" y="44.43" width="0.2" height="3.94" fill="#ffa500"/>
<rect x="482.4" y="48.37" width="1.8" height="3.94" fill="#00bfff"/>
<rect x="475.7" y="54.28" width="6.7" height="3.94" fill="#ffa500"/>
<rect x="476.7" y="58.22" width="5.7" height="3.94" fill="#00bfff"/>
<rect x="482.4" y="64.13" width="0.1" height="3.94" fill="#ffa500"/>
<rect x="482.4" y="68.07" width="0.7" height="3.94" fill="#00bfff"/>
<rect x="482.3" y="73.98" width="0.1" height="3.94" fill="#ffa500"/>
<rect x="482.4" y="77.92" width="1.1" height="3.94" fill="#00bfff"/>
<rect x="482.4" y="83.83" width="1.4" height="3.94" fill="#ffa500"/>
<rect x="482.4" y="87.77" width="3.2" height="3.94" fill="#00bfff"/>
<rect x="482.4" y="93.68" width="2.1" height="3.94" fill="#ffa500"/>
<rect x="482.4" y="97.62" width="4.8" height="3.94" fill="#00bfff"/>
<rect x="476" y="103.53" width="6.4" height="3.94" fill="#ffa500"/>
<rect x="478.6" y="107.47" width="3.8" height="3.94" fill="#00bfff"/>
<rect x="481.4" y="113.38" width="1" height="3.94" fill="#ffa500"/>
<rect x="482.4" y="117.32" width="1.1" height="3.94" fill="#00bfff"/>
<rect x="463.5" y="123.23" width="18.9" height="3.94" fill="#ffa500"/>
<rect x="466.1" y="127.17" width="16.3" height="3.94" fill="#00bfff"/>
<rect x="482.4" y="133.08" width="16.2" height="3.94" fill="#ffa500"/>
<rect x="482.4" y="137.02" width="15.5" height="3.94" fill="#00bfff"/>
<rect x="480.2" y="142.93" width="2.2" height="3.94" fill="#ffa500"/>
<rect x="482.4" y="146.87" width="0.7" height="3.94" fill="#00bfff"/>
<rect x="479.7" y="152.78" width="2.7" height="3.94" fill="#ffa500"/>
<rect x="480.9" y="156.72" width="1.5" height="3.94" fill="#00bfff"/>
<rect x="407" y="162.63" width="75.4" height="3.94" fill="#ffa500"/>
<rect x="405" y="166.57" width="77.4" height="3.94" fill="#00bfff"/>
<rect x="430.4" y="172.48" width="52" height="3.94" fill="#ffa500"/>
<rect x="426.9" y="176.42" width="55.5" height="3.94" fill="#00bfff"/>
<rect x="482.4" y="182.33" width="4.5" height="3.94" fill="#ffa500"/>
<rect x="482.4" y="186.27" width="7.4" height="3.94" fill="#00bfff"/>
<rect x="441.2" y="192.18" width="41.2" height="3.94" fill="#ffa500"/>
<rect x="439" y="196.12" width="43.4" height="3.94" fill="#00bfff"/>
<rect x="480.3" y="202.03" width="2.1" height="3.94" fill="#ffa500"/>
<rect x="481.1" y="205.97" width="1.3" height="3.94" fill="#00bfff"/>
<rect x="475.4" y="211.88" width="7" height="3.94" fill="#ffa500"/>
<rect x="476.6" y="215.82" width="5.8" height="3.94" fill="#00bfff"/>
<rect x="437.4" y="221.73" width="45" height="3.94" fill="#ffa500"/>
<rect x="436" y="225.67" width="46.4" height="3.94" fill="#00bfff"/>
<rect x="436.2" y="231.58" width="46.2" height="3.94" fill="#ffa500"/>
<rect x="433.8" y="235.52" width="48.6" height="3.94" fill="#00bfff"/>
<rect x="454.7" y="241.43" width="27.7" height="3.94" fill="#ffa500"/>
<rect x="452.8" y="245.37" width="29.6" height="3.94" fill="#00bfff"/>
<rect x="455.2" y="251.28" width="27.2" height="3.94" fill="#ffa500"/>
<rect x="452.8" y="255.22" width="29.6" height="3.94" fill="#00bfff"/>
<rect x="380.2" y="261.13" width="102.2" height="3.94" fill="#ffa500"/>
<rect x="377.8" y="265.07" width="104.6" height="3.94" fill="#00bfff"/>
<rect x="482.4" y="270.98" width="3.9" height="3.94" fill="#ffa500"/>
<rect x="482.4" y="274.92" width="5.9" height="3.94" fill="#00bfff"/>
<rect x="482.4" y="280.83" width="3.3" height="3.94" fill="#ffa500"/>
<rect x="482.4" y="284.77" width="4.2" height="3.94" fill="#00bfff"/>
<rect x="482.4" y="290.68" width="1.3" height="3.94" fill="#ffa500"/>
<rect x="482.4" y="294.62" width="1.9" height="3.94" fill="#00bfff"/>
<rect x="482.4" y="300.53" width="1.3" height="3.94" fill="#ffa500"/>
<rect x="482.4" y="304.47" width="2.3" height="3.94" fill="#00bfff"/>
<rect x="482.4" y="310.38" width="4.2" height="3.94" fill="#ffa500"/>
<rect x="482.4" y="314.32" width="5.6" height="3.94" fill="#00bfff"/>
<rect x="482.4" y="320.23" width="2.5" height="3.94" fill="#ffa500"/>
<rect x="482.4" y="324.17" width="3.5" height="3.94" fill="#00bfff"/>
<rect x="478.6" y="330.08" width="3.8" height="3.94" fill="#ffa500"/>
<rect x="479.7" y="334.02" width="2.7" height="3.94" fill="#00bfff"/>
<rect x="474.8" y="339.93" width="7.6" height="3.94" fill="#ffa500"/>
<rect x="476" y="343.87" width="6.4" height="3.94" fill="#00bfff"/>
<rect x="482.4" y="349.78" width="1.9" height="3.94" fill="#ffa500"/>
<rect x="482.4" y="353.72" width="3.2" height="3.94" fill="#00bfff"/>
<rect x="482.4" y="359.63" width="0.1" height="3.94" fill="#ffa500"/>
<rect x="482.4" y="363.57" width="1.1" height="3.94" fill="#00bfff"/>
<rect x="473" y="369.48" width="9.4" height="3.94" fill="#ffa500"/>
<rect x="473.6" y="373.42" width="8.8" height="3.94" fill="#00bfff"/>
<rect x="481.2" y="379.33" width="1.2" height="3.94" fill="#ffa500"/>
<rect x="482.4" y="389.18" width="4.6" height="3.94" fill="#ffa500"/>
<rect x="482.4" y="393.12" width="5.6" height="3.94" fill="#00bfff"/>
<rect x="476.5" y="399.03" width="5.9" height="3.94" fill="#ffa500"/>
<rect x="472.7" y="402.97" width="9.7" height="3.94" fill="#00bfff"/>
<rect x="482.4" y="408.88" width="9.4" height="3.94" fill="#ffa500"/>
<rect x="482.4" y="412.82" width="10.3" height="3.94" fill="#00bfff"/>
<rect x="482.4" y="418.73" width="2.3" height="3.94" fill="#ffa500"/>
<rect x="482.4" y="422.67" width="4.2" height="3.94" fill="#00bfff"/>
<rect x="481" y="428.58" width="1.4" height="3.94" fill="#ffa500"/>
<rect x="481" y="432.52" width="1.4" height="3.94" fill="#00bfff"/>
<rect x="482.4" y="438.43" width="1.1" height="3.94" fill="#ffa500"/>
<rect x="482.4" y="442.37" width="3.9" height="3.94" fill="#00bfff"/>
<rect x="482.4" y="448.28" width="2.5" height="3.94" fill="#ffa500"/>
<rect x="482.4" y="452.22" width="4.6" height="3.94" fill="#00bfff"/>
<rect x="473" y="458.13" width="9.4" height="3.94" fill="#ffa500"/>
<rect x="475.1" y="462.07" width="7.3" height="3.94" fill="#00bfff"/>
<rect x="478.6" y="467.98" width="3.8" height="3.94" fill="#ffa500"/>
<rect x="480.3" y="471.92" width="2.1" height="3.94" fill="#00bfff"/>
<rect x="477.9" y="477.83" width="4.5" height="3.94" fill="#ffa500"/>
<rect x="479.7" y="481.77" width="2.7" height="3.94" fill="#00bfff"/>
<rect x="480" y="487.68" width="2.4" height="3.94" fill="#ffa500"/>
<rect x="480.9" y="491.62" width="1.5" height="3.94" fill="#00bfff"/>
<rect x="468.2" y="497.53" width="14.2" height="3.94" fill="#ffa500"/>
<rect x="469.6" y="501.47" width="12.8" height="3.94" fill="#00bfff"/>
<rect x="482.4" y="507.38" width="2.1" height="3.94" fill="#ffa500"/>
<rect x="482.4" y="511.32" width="4.9" height="3.94" fill="#00bfff"/>
<rect x="481.2" y="517.23" width="1.2" height="3.94" fill="#ffa500"/>
<rect x="479.7" y="527.08" width="2.7" height="3.94" fill="#ffa500"/>
<rect x="481.4" y="531.02" width="1" height="3.94" fill="#00bfff"/>
<rect x="475.1" y="536.93" width="7.3" height="3.94" fill="#ffa500"/>
<rect x="477.9" y="540.87" width="4.5" height="3.94" fill="#00bfff"/>
<rect x="477.7" y="546.78" width="4.7" height="3.94" fill="#ffa500"/>
<rect x="479.3" y="550.72" width="3.1" height="3.94" fill="#00bfff"/>
<rect x="471.8" y="556.63" width="10.6" height="3.94" fill="#ffa500"/>
<rect x="474.3" y="560.57" width="8.1" height="3.94" fill="#00bfff"/>
<rect x="482.4" y="566.48" width="9.1" height="3.94" fill="#ffa500"/>
<rect x="482.4" y="570.42" width="10.5" height="3.94" fill="#00bfff"/>
<rect x="482.4" y="576.33" width="9.6" height="3.94" fill="#ffa500"/>
<rect x="482.4" y="580.27" width="10.1" height="3.94" fill="#00bfff"/>
<rect x="479.5" y="586.18" width="2.9" height="3.94" fill="#ffa500"/>
<rect x="480.3" y="590.12" width="2.1" height="3.94" fill="#00bfff"/>
<rect x="472" y="596.03" width="10.4" height="3.94" fill="#ffa500"/>
<rect x="475.1" y="599.97" width="7.3" height="3.94" fill="#00bfff"/>
<rect x="474.8" y="605.88" width="7.6" height="3.94" fill="#ffa500"/>
<rect x="479" y="609.82" width="3.4" height="3.94" fill="#00bfff"/>
<rect x="482.4" y="619.67" width="1.5" height="3.94" fill="#00bfff"/>
<rect x="482.4" y="625.58" width="1.5" height="3.94" fill="#ffa500"/>
<rect x="482.4" y="629.52" width="1.2" height="3.94" fill="#00bfff"/>
<rect x="471.1" y="635.43" width="11.3" height="3.94" fill="#ffa500"/>
<rect x="473.2" y="639.37" width="9.2" height="3.94" fill="#00bfff"/>
<rect x="478.2" y="645.28" width="4.2" height="3.94" fill="#ffa500"/>
<rect x="478.8" y="649.22" width="3.6" height="3.94" fill="#00bfff"/>
<rect x="327.4" y="1.09" width="232.5" height="49.25" fill="#808080" fill-opacity="0.2"/>
<rect x="327.4" y="50.34" width="232.5" height="39.4" fill="#008080" fill-opacity="0.4"/>
<rect x="327.4" y="89.74" width="232.5" height="59.1" fill="#ffff00" fill-opacity="0.2"/>
<rect x="327.4" y="148.84" width="232.5" height="118.2" fill="#0000ff" fill-opacity="0.2"/>
<rect x="327.4" y="267.04" width="232.5" height="137.9" fill="#008080" fill-opacity="0.2"/>
<rect x="327.4" y="404.94" width="232.5" height="246.25" fill="#ff0000" fill-opacity="0.1"/>
<rect x="481.6" y="13.16" width="2.1" height="1.5" fill="#fff" fill-opacity="0.45"/>
<rect x="482.4" y="23.01" width="9.1" height="1.5" fill="#fff" fill-opacity="0.45"/>
<rect x="482.4" y="32.86" width="9.7" height="1.5" fill="#fff" fill-opacity="0.45"/>
<rect x="482.4" y="42.71" width="10.6" height="1.5" fill="#fff" fill-opacity="0.45"/>
<rect x="475.7" y="52.56" width="8.5" height="1.5" fill="#fff" fill-opacity="0.45"/>
<rect x="476.7" y="62.41" width="5.8" height="1.5" fill="#fff" fill-opacity="0.45"/>
<rect x="482.3" y="72.26" width="0.8" height="1.5" fill="#fff" fill-opacity="0.45"/>
<rect x="482.4" y="82.11" width="1.4" height="1.5" fill="#fff" fill-opacity="0.45"/>
<rect x="482.4" y="91.96" width="3.2" height="1.5" fill="#fff" fill-opacity="0.45"/>
<rect x="476" y="101.81" width="11.2" height="1.5" fill="#fff" fill-opacity="0.45"/>
<rect x="478.6" y="111.66" width="3.8" height="1.5" fill="#fff" fill-opacity="0.45"/>
<rect x="463.5" y="121.51" width="20" height="1.5" fill="#fff" fill-opacity="0.45"/>
<rect x="466.1" y="131.36" width="32.5" height="1.5" fill="#fff" fill-opacity="0.45"/>
<rect x="480.2" y="141.21" width="17.7" height="1.5" fill="#fff" fill-opacity="0.45"/>
<rect x="479.7" y="151.06" width="3.4" height="1.5" fill="#fff" fill-opacity="0.45"/>
<rect x="407" y="160.91" width="75.4" height="1.5" fill="#fff" fill-opacity="0.45"/>
<rect x="405" y="170.76" width="77.4" height="1.5" fill="#fff" fill-opacity="0.45"/>
<rect x="426.9" y="180.61" width="60" height="1.5" fill="#fff" fill-opacity="0.45"/>
<rect x="441.2" y="190.46" width="48.6" height="1.5" fill="#fff" fill-opacity="0.45"/>
<rect x="439" y="200.31" width="43.4" height="1.5" fill="#fff" fill-opacity="0.45"/>
<rect x="475.4" y="210.16" width="7" height="1.5" fill="#fff" fill-opacity="0.45"/>
<rect x="437.4" y="220.01" width="45" height="1.5" fill="#fff" fill-opacity="0.45"/>
<rect x="436" y="229.86" width="46.4" height="1.5" fill="#fff" fill-opacity="0.45"/>
<rect x="433.8" y="239.71" width="48.6" height="1.5" fill="#fff" fill-opacity="0.45"/>
<rect x="452.8" y="249.56" width="29.6" height="1.5" fill="#fff" fill-opacity="0.45"/>
<rect x="380.2" y="259.41" width="102.2" height="1.5" fill="#fff" fill-opacity="0.45"/>
<rect x="377.8" y="269.26" width="108.5" height="1.5" fill="#fff" fill-opacity="0.45"/>
<rect x="482.4" y="279.11" width="5.9" height="1.5" fill="#fff" fill-opacity="0.45"/>
<rect x="482.4" y="288.96" width="4.2" height="1.5" fill="#fff" fill-opacity="0.45"/>
<rect x="482.4" y="298.81" width="1.9" height="1.5" fill="#fff" fill-opacity="0.45"/>
<rect x="482.4" y="308.66" width="4.2" height="1.5" fill="#fff" fill-opacity="0.45"/>
<rect x="482.4" y="318.51" width="5.6" height="1.5" fill="#fff" fill-opacity="0.45"/>
<rect x="478.6" y="328.36" width="7.3" height="1.5" fill="#fff" fill-opacity="0.45"/>
<rect x="474.8" y="338.21" width="7.6" height="1.5" fill="#fff" fill-opacity="0.45"/>
<rect x="476" y="348.06" width="8.3" height="1.5" fill="#fff" fill-opacity="0.45"/>
<rect x="482.4" y="357.91" width="3.2" height="1.5" fill="#fff" fill-opacity="0.45"/>
<rect x="473" y="367.76" width="10.5" height="1.5" fill="#fff" fill-opacity="0.45"/>
<rect x="473.6" y="377.61" width="8.8" height="1.5" fill="#fff" fill-opacity="0.45"/>
<rect x="482.4" y="387.46" width="4.6" height="1.5" fill="#fff" fill-opacity="0.45"/>
<rect x="476.5" y="397.31" width="11.5" height="1.5" fill="#fff" fill-opacity="0.45"/>
<rect x="472.7" y="407.16" width="19.1" height="1.5" fill="#fff" fill-opacity="0.45"/>
<rect x="482.4" y="417.01" width="10.3" height="1.5" fill="#fff" fill-opacity="0.45"/>
<rect x="481" y="426.86" width="5.6" height="1.5" fill="#fff" fill-opacity="0.45"/>
<rect x="481" y="436.71" width="2.5" height="1.5" fill="#fff" fill-opacity="0.45"/>
<rect x="482.4" y="446.56" width="3.9" height="1.5" fill="#fff" fill-opacity="0.45"/>
<rect x="473" y="456.41" width="14" height="1.5" fill="#fff" fill-opacity="0.45"/>
<rect x="475.1" y="466.26" width="7.3" height="1.5" fill="#fff" fill-opacity="0.45"/>
<rect x="477.9" y="476.11" width="4.5" height="1.5" fill="#fff" fill-opacity="0.45"/>
<rect x="479.7" y="485.96" width="2.7" height="1.5" fill="#fff" fill-opacity="0.45"/>
<rect x="468.2" y="495.81" width="14.2" height="1.5" fill="#fff" fill-opacity="0.45"/>
<rect x="469.6" y="505.66" width="14.9" height="1.5" fill="#fff" fill-opacity="0.45"/>
<rect x="481.2" y="515.51" width="6.1" height="1.5" fill="#fff" fill-opacity="0.45"/>
<rect x="479.7" y="525.36" width="2.7" height="1.5" fill="#fff" fill-opacity="0.45"/>
<rect x="475.1" y="535.21" width="7.3" height="1.5" fill="#fff" fill-opacity="0.45"/>
<rect x="477.7" y="545.06" width="4.7" height="1.5" fill="#fff" fill-opacity="0.45"/>
<rect x="471.8" y="554.91" width="10.6" height="1.5" fill="#fff" fill-opacity="0.45"/>
<rect x="474.3" y="564.76" width="17.2" height="1.5" fill="#fff" fill-opacity="0.45"/>
<rect x="482.4" y="574.61" width="10.5" height="1.5" fill="#fff" fill-opacity="0.45"/>
<rect x="479.5" y="584.46" width="13" height="1.5" fill="#fff" fill-opacity="0.45"/>
<rect x="472" y="594.31" width="10.4" height="1.5" fill="#fff" fill-opacity="0.45"/>
<rect x="474.8" y="604.16" width="7.6" height="1.5" fill="#fff" fill-opacity="0.45"/>
<rect x="479" y="614.01" width="3.4" height="1.5" fill="#fff" fill-opacity="0.45"/>
<rect x="482.4" y="623.86" width="1.5" height="1.5" fill="#fff" fill-opacity="0.45"/>
<rect x="471.1" y="633.71" width="12.5" height="1.5" fill="#fff" fill-opacity="0.45"/>
<rect x="473.2" y="643.56" width="9.2" height="1.5" fill="#fff" fill-opacity="0.45"/>
<line x1="482.4" y1="1.5" x2="482.4" y2="653.1" stroke="#4a4a4a" stroke-width="1.05"/>
<circle cx="503.9" cy="8.97" r="4.1" fill="#fff" fill-opacity="0.75"/>
<circle cx="503.9" cy="8.97" r="2.55" fill="#ff6347" stroke="#000" stroke-width="1"/>
<circle cx="503" cy="18.82" r="4.1" fill="#fff" fill-opacity="0.75"/>
<circle cx="503" cy="18.82" r="2.55" fill="#ff6347" stroke="#000" stroke-width="1"/>
<circle cx="497.9" cy="28.67" r="4.1" fill="#fff" fill-opacity="0.75"/>
<circle cx="497.9" cy="28.67" r="2.55" fill="#ff6347" stroke="#000" stroke-width="1"/>
<circle cx="512.3" cy="38.52" r="4.1" fill="#fff" fill-opacity="0.75"/>
<circle cx="512.3" cy="38.52" r="2.55" fill="#ff6347" stroke="#000" stroke-width="1"/>
<circle cx="505.2" cy="48.37" r="4.1" fill="#fff" fill-opacity="0.75"/>
<circle cx="505.2" cy="48.37" r="2.55" fill="#ff6347" stroke="#000" stroke-width="1"/>
<circle cx="495.8" cy="58.22" r="4.1" fill="#fff" fill-opacity="0.75"/>
<circle cx="495.8" cy="58.22" r="2.55" fill="#ff6347" stroke="#000" stroke-width="1"/>
<circle cx="501.6" cy="68.07" r="4.1" fill="#fff" fill-opacity="0.75"/>
<circle cx="501.6" cy="68.07" r="2.55" fill="#ff6347" stroke="#000" stroke-width="1"/>
<circle cx="504" cy="77.92" r="4.1" fill="#fff" fill-opacity="0.75"/>
<circle cx="504" cy="77.92" r="2.55" fill="#ff6347" stroke="#000" stroke-width="1"/>
<circle cx="504.3" cy="87.77" r="4.1" fill="#fff" fill-opacity="0.75"/>
<circle cx="504.3" cy="87.77" r="2.55" fill="#ff6347" stroke="#000" stroke-width="1"/>
<circle cx="499.1" cy="97.62" r="4.1" fill="#fff" fill-opacity="0.75"/>
<circle cx="499.1" cy="97.62" r="2.55" fill="#ff6347" stroke="#000" stroke-width="1"/>
<circle cx="497.4" cy="107.47" r="4.1" fill="#fff" fill-opacity="0.75"/>
<circle cx="497.4" cy="107.47" r="2.55" fill="#ff6347" stroke="#000" stroke-width="1"/>
<circle cx="503.8" cy="117.32" r="4.1" fill="#fff" fill-opacity="0.75"/>
<circle cx="503.8" cy="117.32" r="2.55" fill="#ff6347" stroke="#000" stroke-width="1"/>
<circle cx="484.3" cy="127.17" r="4.1" fill="#fff" fill-opacity="0.75"/>
<circle cx="484.3" cy="127.17" r="2.55" fill="#ff6347" stroke="#000" stroke-width="1"/>
<circle cx="516.2" cy="137.02" r="4.1" fill="#fff" fill-opacity="0.75"/>
<circle cx="516.2" cy="137.02" r="2.55" fill="#ff6347" stroke="#000" stroke-width="1"/>
<circle cx="502.3" cy="146.87" r="4.1" fill="#fff" fill-opacity="0.75"/>
<circle cx="502.3" cy="146.87" r="2.55" fill="#ff6347" stroke="#000" stroke-width="1"/>
<circle cx="490.2" cy="156.72" r="4.1" fill="#fff" fill-opacity="0.75"/>
<circle cx="490.2" cy="156.72" r="2.55" fill="#ff6347" stroke="#000" stroke-width="1"/>
<circle cx="407.7" cy="166.57" r="4.1" fill="#fff" fill-opacity="0.75"/>
<circle cx="407.7" cy="166.57" r="2.55" fill="#ff6347" stroke="#000" stroke-width="1"/>
<circle cx="423.6" cy="176.42" r="4.1" fill="#fff" fill-opacity="0.75"/>
<circle cx="423.6" cy="176.42" r="2.55" fill="#ff6347" stroke="#000" stroke-width="1"/>
<circle cx="499" cy="186.27" r="4.1" fill="#fff" fill-opacity="0.75"/>
<circle cx="499" cy="186.27" r="2.55" fill="#ff6347" stroke="#000" stroke-width="1"/>
<circle cx="437.8" cy="196.12" r="4.1" fill="#fff" fill-opacity="0.75"/>
<circle cx="437.8" cy="196.12" r="2.55" fill="#ff6347" stroke="#000" stroke-width="1"/>
<circle cx="490" cy="205.97" r="4.1" fill="#fff" fill-opacity="0.75"/>
<circle cx="490" cy="205.97" r="2.55" fill="#ff6347" stroke="#000" stroke-width="1"/>
<circle cx="474" cy="215.82" r="4.1" fill="#fff" fill-opacity="0.75"/>
<circle cx="474" cy="215.82" r="2.55" fill="#ff6347" stroke="#000" stroke-width="1"/>
<circle cx="440.6" cy="225.67" r="4.1" fill="#fff" fill-opacity="0.75"/>
<circle cx="440.6" cy="225.67" r="2.55" fill="#ff6347" stroke="#000" stroke-width="1"/>
<circle cx="432.8" cy="235.52" r="4.1" fill="#fff" fill-opacity="0.75"/>
<circle cx="432.8" cy="235.52" r="2.55" fill="#ff6347" stroke="#000" stroke-width="1"/>
<circle cx="449.9" cy="245.37" r="4.1" fill="#fff" fill-opacity="0.75"/>
<circle cx="449.9" cy="245.37" r="2.55" fill="#ff6347" stroke="#000" stroke-width="1"/>
<circle cx="453.3" cy="255.22" r="4.1" fill="#fff" fill-opacity="0.75"/>
<circle cx="453.3" cy="255.22" r="2.55" fill="#ff6347" stroke="#000" stroke-width="1"/>
<circle cx="375.4" cy="265.07" r="4.1" fill="#fff" fill-opacity="0.75"/>
<circle cx="375.4" cy="265.07" r="2.55" fill="#ff6347" stroke="#000" stroke-width="1"/>
<circle cx="515.5" cy="274.92" r="4.1" fill="#fff" fill-opacity="0.75"/>
<circle cx="515.5" cy="274.92" r="2.55" fill="#ff6347" stroke="#000" stroke-width="1"/>
<circle cx="515.3" cy="284.77" r="4.1" fill="#fff" fill-opacity="0.75"/>
<circle cx="515.3" cy="284.77" r="2.55" fill="#ff6347" stroke="#000" stroke-width="1"/>
<circle cx="515" cy="294.62" r="4.1" fill="#fff" fill-opacity="0.75"/>
<circle cx="515" cy="294.62" r="2.55" fill="#ff6347" stroke="#000" stroke-width="1"/>
<circle cx="517" cy="304.47" r="4.1" fill="#fff" fill-opacity="0.75"/>
<circle cx="517" cy="304.47" r="2.55" fill="#ff6347" stroke="#000" stroke-width="1"/>
<circle cx="517.7" cy="314.32" r="4.1" fill="#fff" fill-opacity="0.75"/>
<circle cx="517.7" cy="314.32" r="2.55" fill="#ff6347" stroke="#000" stroke-width="1"/>
<circle cx="514.4" cy="324.17" r="4.1" fill="#fff" fill-opacity="0.75"/>
<circle cx="514.4" cy="324.17" r="2.55" fill="#ff6347" stroke="#000" stroke-width="1"/>
<circle cx="508.9" cy="334.02" r="4.1" fill="#fff" fill-opacity="0.75"/>
<circle cx="508.9" cy="334.02" r="2.55" fill="#ff6347" stroke="#000" stroke-width="1"/>
<circle cx="505.7" cy="343.87" r="4.1" fill="#fff" fill-opacity="0.75"/>
<circle cx="505.7" cy="343.87" r="2.55" fill="#ff6347" stroke="#000" stroke-width="1"/>
<circle cx="513.2" cy="353.72" r="4.1" fill="#fff" fill-opacity="0.75"/>
<circle cx="513.2" cy="353.72" r="2.55" fill="#ff6347" stroke="#000" stroke-width="1"/>
<circle cx="512.7" cy="363.57" r="4.1" fill="#fff" fill-opacity="0.75"/>
<circle cx="512.7" cy="363.57" r="2.55" fill="#ff6347" stroke="#000" stroke-width="1"/>
<circle cx="506.6" cy="373.42" r="4.1" fill="#fff" fill-opacity="0.75"/>
<circle cx="506.6" cy="373.42" r="2.55" fill="#ff6347" stroke="#000" stroke-width="1"/>
<circle cx="511.8" cy="383.27" r="4.1" fill="#fff" fill-opacity="0.75"/>
<circle cx="511.8" cy="383.27" r="2.55" fill="#ff6347" stroke="#000" stroke-width="1"/>
<circle cx="516.2" cy="393.12" r="4.1" fill="#fff" fill-opacity="0.75"/>
<circle cx="516.2" cy="393.12" r="2.55" fill="#ff6347" stroke="#000" stroke-width="1"/>
<circle cx="493.9" cy="402.97" r="4.1" fill="#fff" fill-opacity="0.75"/>
<circle cx="493.9" cy="402.97" r="2.55" fill="#ff6347" stroke="#000" stroke-width="1"/>
<circle cx="517" cy="412.82" r="4.1" fill="#fff" fill-opacity="0.75"/>
<circle cx="517" cy="412.82" r="2.55" fill="#ff6347" stroke="#000" stroke-width="1"/>
<circle cx="509" cy="422.67" r="4.1" fill="#fff" fill-opacity="0.75"/>
<circle cx="509" cy="422.67" r="2.55" fill="#ff6347" stroke="#000" stroke-width="1"/>
<circle cx="501.2" cy="432.52" r="4.1" fill="#fff" fill-opacity="0.75"/>
<circle cx="501.2" cy="432.52" r="2.55" fill="#ff6347" stroke="#000" stroke-width="1"/>
<circle cx="507.5" cy="442.37" r="4.1" fill="#fff" fill-opacity="0.75"/>
<circle cx="507.5" cy="442.37" r="2.55" fill="#ff6347" stroke="#000" stroke-width="1"/>
<circle cx="508.2" cy="452.22" r="4.1" fill="#fff" fill-opacity="0.75"/>
<circle cx="508.2" cy="452.22" r="2.55" fill="#ff6347" stroke="#000" stroke-width="1"/>
<circle cx="495" cy="462.07" r="4.1" fill="#fff" fill-opacity="0.75"/>
<circle cx="495" cy="462.07" r="2.55" fill="#ff6347" stroke="#000" stroke-width="1"/>
<circle cx="500.9" cy="471.92" r="4.1" fill="#fff" fill-opacity="0.75"/>
<circle cx="500.9" cy="471.92" r="2.55" fill="#ff6347" stroke="#000" stroke-width="1"/>
<circle cx="500.9" cy="481.77" r="4.1" fill="#fff" fill-opacity="0.75"/>
<circle cx="500.9" cy="481.77" r="2.55" fill="#ff6347" stroke="#000" stroke-width="1"/>
<circle cx="496.2" cy="491.62" r="4.1" fill="#fff" fill-opacity="0.75"/>
<circle cx="496.2" cy="491.62" r="2.55" fill="#ff6347" stroke="#000" stroke-width="1"/>
<circle cx="488.9" cy="501.47" r="4.1" fill="#fff" fill-opacity="0.75"/>
<circle cx="488.9" cy="501.47" r="2.55" fill="#ff6347" stroke="#000" stroke-width="1"/>
<circle cx="514.8" cy="511.32" r="4.1" fill="#fff" fill-opacity="0.75"/>
<circle cx="514.8" cy="511.32" r="2.55" fill="#ff6347" stroke="#000" stroke-width="1"/>
<circle cx="508.5" cy="521.17" r="4.1" fill="#fff" fill-opacity="0.75"/>
<circle cx="508.5" cy="521.17" r="2.55" fill="#ff6347" stroke="#000" stroke-width="1"/>
<circle cx="503.8" cy="531.02" r="4.1" fill="#fff" fill-opacity="0.75"/>
<circle cx="503.8" cy="531.02" r="2.55" fill="#ff6347" stroke="#000" stroke-width="1"/>
<circle cx="498.8" cy="540.87" r="4.1" fill="#fff" fill-opacity="0.75"/>
<circle cx="498.8" cy="540.87" r="2.55" fill="#ff6347" stroke="#000" stroke-width="1"/>
<circle cx="497.7" cy="550.72" r="4.1" fill="#fff" fill-opacity="0.75"/>
<circle cx="497.7" cy="550.72" r="2.55" fill="#ff6347" stroke="#000" stroke-width="1"/>
<circle cx="495.8" cy="560.57" r="4.1" fill="#fff" fill-opacity="0.75"/>
<circle cx="495.8" cy="560.57" r="2.55" fill="#ff6347" stroke="#000" stroke-width="1"/>
<circle cx="516.7" cy="570.42" r="4.1" fill="#fff" fill-opacity="0.75"/>
<circle cx="516.7" cy="570.42" r="2.55" fill="#ff6347" stroke="#000" stroke-width="1"/>
<circle cx="516.9" cy="580.27" r="4.1" fill="#fff" fill-opacity="0.75"/>
<circle cx="516.9" cy="580.27" r="2.55" fill="#ff6347" stroke="#000" stroke-width="1"/>
<circle cx="506.1" cy="590.12" r="4.1" fill="#fff" fill-opacity="0.75"/>
<circle cx="506.1" cy="590.12" r="2.55" fill="#ff6347" stroke="#000" stroke-width="1"/>
<circle cx="493.4" cy="599.97" r="4.1" fill="#fff" fill-opacity="0.75"/>
<circle cx="493.4" cy="599.97" r="2.55" fill="#ff6347" stroke="#000" stroke-width="1"/>
<circle cx="503.1" cy="609.82" r="4.1" fill="#fff" fill-opacity="0.75"/>
<circle cx="503.1" cy="609.82" r="2.55" fill="#ff6347" stroke="#000" stroke-width="1"/>
<circle cx="506.3" cy="619.67" r="4.1" fill="#fff" fill-opacity="0.75"/>
<circle cx="506.3" cy="619.67" r="2.55" fill="#ff6347" stroke="#000" stroke-width="1"/>
<circle cx="509.6" cy="629.52" r="4.1" fill="#fff" fill-opacity="0.75"/>
<circle cx="509.6" cy="629.52" r="2.55" fill="#ff6347" stroke="#000" stroke-width="1"/>
<circle cx="498.8" cy="639.37" r="4.1" fill="#fff" fill-opacity="0.75"/>
<circle cx="498.8" cy="639.37" r="2.55" fill="#ff6347" stroke="#000" stroke-width="1"/>
<circle cx="500.3" cy="649.22" r="4.1" fill="#fff" fill-opacity="0.75"/>
<circle cx="500.3" cy="649.22" r="2.55" fill="#ff6347" stroke="#000" stroke-width="1"/>
<line x1="327.4" y1="2.6" x2="559.9" y2="2.6" stroke="#fff" stroke-opacity="0.7" stroke-width="0.9"/>
<line x1="558.7" y1="1.5" x2="558.7" y2="651.1" stroke="#fff" stroke-opacity="0.6" stroke-width="0.9"/>
<line x1="326.8" y1="1.5" x2="560.5" y2="1.5" stroke="#7a7a7a" stroke-width="1.2"/>
<line x1="327.4" y1="653.1" x2="559.9" y2="653.1" stroke="#bdbdbd" stroke-width="1.5"/>
<line x1="327.4" y1="1.5" x2="327.4" y2="653.1" stroke="#707070" stroke-width="1.1"/>
<line x1="559.9" y1="1.5" x2="559.9" y2="653.8" stroke="#8f8f8f" stroke-width="1.6"/>
<line x1="324.7" y1="7" x2="327.4" y2="7" stroke="#555" stroke-width="1.1"/>
<text x="314.2" y="11.5" text-anchor="end" class="tk">trn</text>
<line x1="324.7" y1="16.85" x2="327.4" y2="16.85" stroke="#555" stroke-width="1.1"/>
<text x="314.2" y="21.35" text-anchor="end" class="tk">sac</text>
<line x1="324.7" y1="26.7" x2="327.4" y2="26.7" stroke="#555" stroke-width="1.1"/>
<text x="314.2" y="31.2" text-anchor="end" class="tk">run</text>
<line x1="324.7" y1="36.55" x2="327.4" y2="36.55" stroke="#555" stroke-width="1.1"/>
<text x="314.2" y="41.05" text-anchor="end" class="tk">puy</text>
<line x1="324.7" y1="46.4" x2="327.4" y2="46.4" stroke="#555" stroke-width="1.1"/>
<text x="314.2" y="50.9" text-anchor="end" class="tk">ope</text>
<line x1="324.7" y1="56.25" x2="327.4" y2="56.25" stroke="#555" stroke-width="1.1"/>
<text x="314.2" y="60.75" text-anchor="end" class="tk">wao</text>
<line x1="324.7" y1="66.1" x2="327.4" y2="66.1" stroke="#555" stroke-width="1.1"/>
<text x="314.2" y="70.6" text-anchor="end" class="tk">tac</text>
<line x1="324.7" y1="75.95" x2="327.4" y2="75.95" stroke="#555" stroke-width="1.1"/>
<text x="314.2" y="80.45" text-anchor="end" class="tk">rgl</text>
<line x1="324.7" y1="85.8" x2="327.4" y2="85.8" stroke="#555" stroke-width="1.1"/>
<text x="314.2" y="90.3" text-anchor="end" class="tk">bsd</text>
<line x1="324.7" y1="95.65" x2="327.4" y2="95.65" stroke="#555" stroke-width="1.1"/>
<text x="314.2" y="100.15" text-anchor="end" class="tk">toh</text>
<line x1="324.7" y1="105.5" x2="327.4" y2="105.5" stroke="#555" stroke-width="1.1"/>
<text x="314.2" y="110" text-anchor="end" class="tk">oxk</text>
<line x1="324.7" y1="115.35" x2="327.4" y2="115.35" stroke="#555" stroke-width="1.1"/>
<text x="314.2" y="119.85" text-anchor="end" class="tk">lin</text>
<line x1="324.7" y1="125.2" x2="327.4" y2="125.2" stroke="#555" stroke-width="1.1"/>
<text x="314.2" y="129.7" text-anchor="end" class="tk">kit</text>
<line x1="324.7" y1="135.05" x2="327.4" y2="135.05" stroke="#555" stroke-width="1.1"/>
<text x="314.2" y="139.55" text-anchor="end" class="tk">hpb</text>
<line x1="324.7" y1="144.9" x2="327.4" y2="144.9" stroke="#555" stroke-width="1.1"/>
<text x="314.2" y="149.4" text-anchor="end" class="tk">gat</text>
<line x1="324.7" y1="154.75" x2="327.4" y2="154.75" stroke="#555" stroke-width="1.1"/>
<text x="314.2" y="159.25" text-anchor="end" class="tk">vic</text>
<line x1="324.7" y1="164.6" x2="327.4" y2="164.6" stroke="#555" stroke-width="1.1"/>
<text x="314.2" y="169.1" text-anchor="end" class="tk">us2</text>
<line x1="324.7" y1="174.45" x2="327.4" y2="174.45" stroke="#555" stroke-width="1.1"/>
<text x="314.2" y="178.95" text-anchor="end" class="tk">us1</text>
<line x1="324.7" y1="184.3" x2="327.4" y2="184.3" stroke="#555" stroke-width="1.1"/>
<text x="314.2" y="188.8" text-anchor="end" class="tk">sci</text>
<line x1="324.7" y1="194.15" x2="327.4" y2="194.15" stroke="#555" stroke-width="1.1"/>
<text x="314.2" y="198.65" text-anchor="end" class="tk">ont</text>
<line x1="324.7" y1="204" x2="327.4" y2="204" stroke="#555" stroke-width="1.1"/>
<text x="314.2" y="208.5" text-anchor="end" class="tk">ljo</text>
<line x1="324.7" y1="213.85" x2="327.4" y2="213.85" stroke="#555" stroke-width="1.1"/>
<text x="314.2" y="218.35" text-anchor="end" class="tk">irv</text>
<line x1="324.7" y1="223.7" x2="327.4" y2="223.7" stroke="#555" stroke-width="1.1"/>
<text x="314.2" y="228.2" text-anchor="end" class="tk">gra</text>
<line x1="324.7" y1="233.55" x2="327.4" y2="233.55" stroke="#555" stroke-width="1.1"/>
<text x="314.2" y="238.05" text-anchor="end" class="tk">ful</text>
<line x1="324.7" y1="243.4" x2="327.4" y2="243.4" stroke="#555" stroke-width="1.1"/>
<text x="314.2" y="247.9" text-anchor="end" class="tk">com</text>
<line x1="324.7" y1="253.25" x2="327.4" y2="253.25" stroke="#555" stroke-width="1.1"/>
<text x="314.2" y="257.75" text-anchor="end" class="tk">cnp</text>
<line x1="324.7" y1="263.1" x2="327.4" y2="263.1" stroke="#555" stroke-width="1.1"/>
<text x="314.2" y="267.6" text-anchor="end" class="tk">cit</text>
<line x1="324.7" y1="272.95" x2="327.4" y2="272.95" stroke="#555" stroke-width="1.1"/>
<text x="319.2" y="277.45" text-anchor="end" class="tk">inx14</text>
<line x1="324.7" y1="282.8" x2="327.4" y2="282.8" stroke="#555" stroke-width="1.1"/>
<text x="319.2" y="287.3" text-anchor="end" class="tk">inx13</text>
<line x1="324.7" y1="292.65" x2="327.4" y2="292.65" stroke="#555" stroke-width="1.1"/>
<text x="319.2" y="297.15" text-anchor="end" class="tk">inx11</text>
<line x1="324.7" y1="302.5" x2="327.4" y2="302.5" stroke="#555" stroke-width="1.1"/>
<text x="319.2" y="307" text-anchor="end" class="tk">inx10</text>
<line x1="324.7" y1="312.35" x2="327.4" y2="312.35" stroke="#555" stroke-width="1.1"/>
<text x="319.2" y="316.85" text-anchor="end" class="tk">inx09</text>
<line x1="324.7" y1="322.2" x2="327.4" y2="322.2" stroke="#555" stroke-width="1.1"/>
<text x="319.2" y="326.7" text-anchor="end" class="tk">inx08</text>
<line x1="324.7" y1="332.05" x2="327.4" y2="332.05" stroke="#555" stroke-width="1.1"/>
<text x="319.2" y="336.55" text-anchor="end" class="tk">inx07</text>
<line x1="324.7" y1="341.9" x2="327.4" y2="341.9" stroke="#555" stroke-width="1.1"/>
<text x="319.2" y="346.4" text-anchor="end" class="tk">inx06</text>
<line x1="324.7" y1="351.75" x2="327.4" y2="351.75" stroke="#555" stroke-width="1.1"/>
<text x="319.2" y="356.25" text-anchor="end" class="tk">inx05</text>
<line x1="324.7" y1="361.6" x2="327.4" y2="361.6" stroke="#555" stroke-width="1.1"/>
<text x="319.2" y="366.1" text-anchor="end" class="tk">inx04</text>
<line x1="324.7" y1="371.45" x2="327.4" y2="371.45" stroke="#555" stroke-width="1.1"/>
<text x="319.2" y="375.95" text-anchor="end" class="tk">inx03</text>
<line x1="324.7" y1="381.3" x2="327.4" y2="381.3" stroke="#555" stroke-width="1.1"/>
<text x="319.2" y="385.8" text-anchor="end" class="tk">inx02</text>
<line x1="324.7" y1="391.15" x2="327.4" y2="391.15" stroke="#555" stroke-width="1.1"/>
<text x="319.2" y="395.65" text-anchor="end" class="tk">inx01</text>
<line x1="324.7" y1="401" x2="327.4" y2="401" stroke="#555" stroke-width="1.1"/>
<text x="314.2" y="405.5" text-anchor="end" class="tk">inx</text>
<line x1="324.7" y1="410.85" x2="327.4" y2="410.85" stroke="#555" stroke-width="1.1"/>
<text x="314.2" y="415.35" text-anchor="end" class="tk">uny</text>
<line x1="324.7" y1="420.7" x2="327.4" y2="420.7" stroke="#555" stroke-width="1.1"/>
<text x="314.2" y="425.2" text-anchor="end" class="tk">tmd</text>
<line x1="324.7" y1="430.55" x2="327.4" y2="430.55" stroke="#555" stroke-width="1.1"/>
<text x="314.2" y="435.05" text-anchor="end" class="tk">snj</text>
<line x1="324.7" y1="440.4" x2="327.4" y2="440.4" stroke="#555" stroke-width="1.1"/>
<text x="314.2" y="444.9" text-anchor="end" class="tk">sfd</text>
<line x1="324.7" y1="450.25" x2="327.4" y2="450.25" stroke="#555" stroke-width="1.1"/>
<text x="314.2" y="454.75" text-anchor="end" class="tk">ric</text>
<line x1="324.7" y1="460.1" x2="327.4" y2="460.1" stroke="#555" stroke-width="1.1"/>
<text x="314.2" y="464.6" text-anchor="end" class="tk">nwb</text>
<line x1="324.7" y1="469.95" x2="327.4" y2="469.95" stroke="#555" stroke-width="1.1"/>
<text x="314.2" y="474.45" text-anchor="end" class="tk">neb</text>
<line x1="324.7" y1="479.8" x2="327.4" y2="479.8" stroke="#555" stroke-width="1.1"/>
<text x="314.2" y="484.3" text-anchor="end" class="tk">ndc</text>
<line x1="324.7" y1="489.65" x2="327.4" y2="489.65" stroke="#555" stroke-width="1.1"/>
<text x="314.2" y="494.15" text-anchor="end" class="tk">msh</text>
<line x1="324.7" y1="499.5" x2="327.4" y2="499.5" stroke="#555" stroke-width="1.1"/>
<text x="314.2" y="504" text-anchor="end" class="tk">mny</text>
<line x1="324.7" y1="509.35" x2="327.4" y2="509.35" stroke="#555" stroke-width="1.1"/>
<text x="314.2" y="513.85" text-anchor="end" class="tk">mnc</text>
<line x1="324.7" y1="519.2" x2="327.4" y2="519.2" stroke="#555" stroke-width="1.1"/>
<text x="314.2" y="523.7" text-anchor="end" class="tk">lew</text>
<line x1="324.7" y1="529.05" x2="327.4" y2="529.05" stroke="#555" stroke-width="1.1"/>
<text x="314.2" y="533.55" text-anchor="end" class="tk">jes</text>
<line x1="324.7" y1="538.9" x2="327.4" y2="538.9" stroke="#555" stroke-width="1.1"/>
<text x="314.2" y="543.4" text-anchor="end" class="tk">hrd</text>
<line x1="324.7" y1="548.75" x2="327.4" y2="548.75" stroke="#555" stroke-width="1.1"/>
<text x="314.2" y="553.25" text-anchor="end" class="tk">hct</text>
<line x1="324.7" y1="558.6" x2="327.4" y2="558.6" stroke="#555" stroke-width="1.1"/>
<text x="314.2" y="563.1" text-anchor="end" class="tk">hal</text>
<line x1="324.7" y1="568.45" x2="327.4" y2="568.45" stroke="#555" stroke-width="1.1"/>
<text x="314.2" y="572.95" text-anchor="end" class="tk">dnh</text>
<line x1="324.7" y1="578.3" x2="327.4" y2="578.3" stroke="#555" stroke-width="1.1"/>
<text x="314.2" y="582.8" text-anchor="end" class="tk">dnc</text>
<line x1="324.7" y1="588.15" x2="327.4" y2="588.15" stroke="#555" stroke-width="1.1"/>
<text x="314.2" y="592.65" text-anchor="end" class="tk">der</text>
<line x1="324.7" y1="598" x2="327.4" y2="598" stroke="#555" stroke-width="1.1"/>
<text x="314.2" y="602.5" text-anchor="end" class="tk">cph</text>
<line x1="324.7" y1="607.85" x2="327.4" y2="607.85" stroke="#555" stroke-width="1.1"/>
<text x="314.2" y="612.35" text-anchor="end" class="tk">bwd</text>
<line x1="324.7" y1="617.7" x2="327.4" y2="617.7" stroke="#555" stroke-width="1.1"/>
<text x="314.2" y="622.2" text-anchor="end" class="tk">buc</text>
<line x1="324.7" y1="627.55" x2="327.4" y2="627.55" stroke="#555" stroke-width="1.1"/>
<text x="314.2" y="632.05" text-anchor="end" class="tk">bri</text>
<line x1="324.7" y1="637.4" x2="327.4" y2="637.4" stroke="#555" stroke-width="1.1"/>
<text x="314.2" y="641.9" text-anchor="end" class="tk">aws</text>
<line x1="324.7" y1="647.25" x2="327.4" y2="647.25" stroke="#555" stroke-width="1.1"/>
<text x="314.2" y="651.75" text-anchor="end" class="tk">arl</text>
<line x1="327.4" y1="653.7" x2="327.4" y2="655.5" stroke="#555" stroke-width="1.0"/>
<text x="327.4" y="665.8" text-anchor="middle" class="tk">−20</text>
<line x1="404.9" y1="653.7" x2="404.9" y2="655.5" stroke="#555" stroke-width="1.0"/>
<text x="404.9" y="665.8" text-anchor="middle" class="tk">−10</text>
<line x1="482.4" y1="653.7" x2="482.4" y2="655.5" stroke="#555" stroke-width="1.0"/>
<text x="482.4" y="665.8" text-anchor="middle" class="tk">0</text>
<line x1="559.9" y1="653.7" x2="559.9" y2="655.5" stroke="#555" stroke-width="1.0"/>
<text x="559.9" y="665.8" text-anchor="middle" class="tk">10</text>
<circle cx="352.1" cy="599.9" r="2.35" fill="#ff6347" stroke="#000" stroke-width="1"/>
<rect x="339" y="613.2" width="26" height="8.6" fill="#00bfff"/>
<rect x="339" y="630.9" width="26" height="8.6" fill="#ffa500"/>
<text x="374.5" y="604.1" class="lg">bias_pri</text>
<text x="374.5" y="621.7" class="lg">bias_opt_c1</text>
<text x="374.5" y="639.4" class="lg">bias_opt_c2</text>
<text x="10.3" y="327.6" class="lb" text-anchor="middle" transform="rotate(-90 10.3 327.6)">Sites</text>
<text x="304.2" y="694.8" class="lb" text-anchor="middle">ppm</text>
<text x="571.5" y="21.7" class="rg" text-anchor="middle" transform="rotate(-90 571.5 21.7)">France</text>
<text x="571.5" y="66.4" class="rg" text-anchor="middle" transform="rotate(-90 571.5 66.4)">England</text>
<text x="571.5" y="119.5" class="rg" text-anchor="middle" transform="rotate(-90 571.5 119.5)">Germany</text>
<text x="571.5" y="209.7" class="rg" text-anchor="middle" transform="rotate(-90 571.5 209.7)">Los Angeles</text>
<text x="571.5" y="341.2" class="rg" text-anchor="middle" transform="rotate(-90 571.5 341.2)">Indianapolis</text>
<text x="571.5" y="535.7" class="rg" text-anchor="middle" transform="rotate(-90 571.5 535.7)">Northeast Corridor</text>
</svg>
</body></html>
